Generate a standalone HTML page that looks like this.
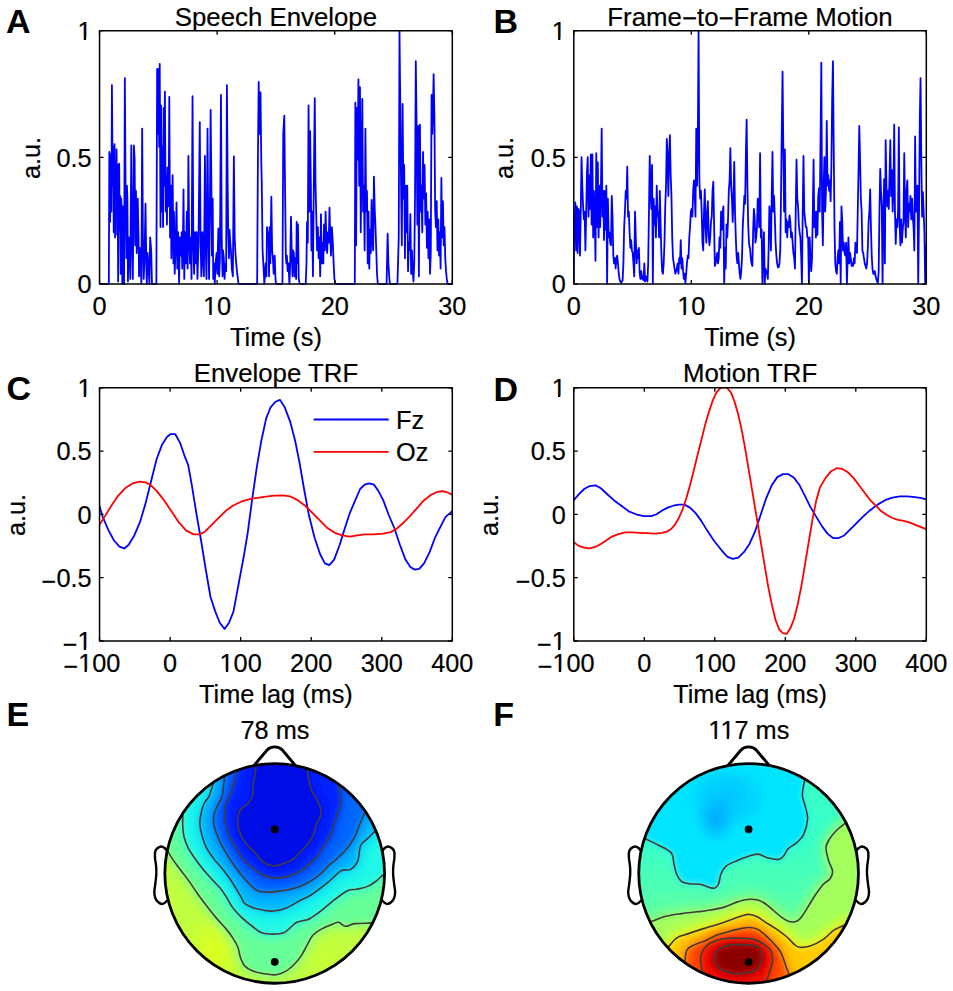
<!DOCTYPE html><html><head><meta charset="utf-8"><style>html,body{margin:0;padding:0;background:#fff}svg{display:block}</style></head><body><svg width="953" height="991" viewBox="0 0 953 991">
<style>.t{font-family:"Liberation Sans", sans-serif;font-size:25.3px;fill:#000;stroke:#000;stroke-width:0.2px} .b{font-family:"Liberation Sans", sans-serif;font-size:34px;font-weight:bold;fill:#000}</style>
<rect width="953" height="991" fill="#fff"/>
<defs><clipPath id="clipA"><rect x="99.25" y="30.05" width="353.35" height="254.65"/></clipPath><clipPath id="clipB"><rect x="573.50" y="30.05" width="353.10" height="254.65"/></clipPath><clipPath id="clipC"><rect x="99.25" y="387.25" width="353.35" height="254.35"/></clipPath><clipPath id="clipD"><rect x="573.50" y="387.25" width="353.10" height="254.35"/></clipPath></defs>
<text x="99.55" y="315.2" text-anchor="middle" class="t">0</text>
<text x="217.13" y="315.2" text-anchor="middle" class="t">10</text>
<text x="334.72" y="315.2" text-anchor="middle" class="t">20</text>
<text x="452.30" y="315.2" text-anchor="middle" class="t">30</text>
<text x="91.55" y="293.30" text-anchor="end" class="t">0</text>
<text x="91.55" y="166.57" text-anchor="end" class="t">0.5</text>
<text x="91.55" y="39.85" text-anchor="end" class="t">1</text>
<text x="275.93" y="25.6" text-anchor="middle" class="t" style="font-size:25.8px">Speech Envelope</text>
<text x="275.93" y="345.6" text-anchor="middle" class="t">Time (s)</text>
<text transform="translate(39.75 157.97) rotate(-90)" text-anchor="middle" class="t">a.u.</text>
<text x="573.80" y="315.2" text-anchor="middle" class="t">0</text>
<text x="691.30" y="315.2" text-anchor="middle" class="t">10</text>
<text x="808.80" y="315.2" text-anchor="middle" class="t">20</text>
<text x="926.30" y="315.2" text-anchor="middle" class="t">30</text>
<text x="565.80" y="293.30" text-anchor="end" class="t">0</text>
<text x="565.80" y="166.57" text-anchor="end" class="t">0.5</text>
<text x="565.80" y="39.85" text-anchor="end" class="t">1</text>
<text x="750.05" y="25.6" text-anchor="middle" class="t" style="font-size:25.8px">Frame<tspan dy="1.3">−</tspan><tspan dy="-1.3">to</tspan><tspan dy="1.3">−</tspan><tspan dy="-1.3">Frame Motion</tspan></text>
<text x="750.05" y="345.6" text-anchor="middle" class="t">Time (s)</text>
<text transform="translate(513.30 157.97) rotate(-90)" text-anchor="middle" class="t">a.u.</text>
<text x="91.95" y="672.2" text-anchor="middle" class="t"><tspan dy="3">−</tspan><tspan dy="-3">100</tspan></text>
<text x="170.10" y="672.2" text-anchor="middle" class="t">0</text>
<text x="240.65" y="672.2" text-anchor="middle" class="t">100</text>
<text x="311.20" y="672.2" text-anchor="middle" class="t">200</text>
<text x="381.75" y="672.2" text-anchor="middle" class="t">300</text>
<text x="452.30" y="672.2" text-anchor="middle" class="t">400</text>
<text x="91.55" y="650.20" text-anchor="end" class="t"><tspan dy="3">−</tspan><tspan dy="-3">1</tspan></text>
<text x="91.55" y="586.91" text-anchor="end" class="t"><tspan dy="3">−</tspan><tspan dy="-3">0.5</tspan></text>
<text x="91.55" y="523.62" text-anchor="end" class="t">0</text>
<text x="91.55" y="460.34" text-anchor="end" class="t">0.5</text>
<text x="91.55" y="397.05" text-anchor="end" class="t">1</text>
<text x="275.93" y="382.4" text-anchor="middle" class="t" style="font-size:25.8px">Envelope TRF</text>
<text x="275.93" y="702.6" text-anchor="middle" class="t">Time lag (ms)</text>
<text transform="translate(24.85 515.02) rotate(-90)" text-anchor="middle" class="t">a.u.</text>
<text x="566.20" y="672.2" text-anchor="middle" class="t"><tspan dy="3">−</tspan><tspan dy="-3">100</tspan></text>
<text x="644.30" y="672.2" text-anchor="middle" class="t">0</text>
<text x="714.80" y="672.2" text-anchor="middle" class="t">100</text>
<text x="785.30" y="672.2" text-anchor="middle" class="t">200</text>
<text x="855.80" y="672.2" text-anchor="middle" class="t">300</text>
<text x="926.30" y="672.2" text-anchor="middle" class="t">400</text>
<text x="565.80" y="650.20" text-anchor="end" class="t"><tspan dy="3">−</tspan><tspan dy="-3">1</tspan></text>
<text x="565.80" y="586.91" text-anchor="end" class="t"><tspan dy="3">−</tspan><tspan dy="-3">0.5</tspan></text>
<text x="565.80" y="523.62" text-anchor="end" class="t">0</text>
<text x="565.80" y="460.34" text-anchor="end" class="t">0.5</text>
<text x="565.80" y="397.05" text-anchor="end" class="t">1</text>
<text x="750.05" y="382.4" text-anchor="middle" class="t" style="font-size:25.8px">Motion TRF</text>
<text x="750.05" y="702.6" text-anchor="middle" class="t">Time lag (ms)</text>
<text transform="translate(498.40 515.02) rotate(-90)" text-anchor="middle" class="t">a.u.</text>
<path d="M99.00 284.10 108.82 284.10 109.34 151.93 110.11 221.90 110.63 154.52 111.40 211.54 111.92 85.07 112.70 185.62 113.21 146.75 113.73 232.27 114.50 144.16 115.02 237.45 115.54 164.89 116.05 185.62 116.57 149.34 117.09 234.86 117.60 164.89 118.12 281.51 118.64 211.54 119.16 163.59 119.67 229.68 120.19 195.99 120.71 273.73 121.22 198.58 121.74 211.54 122.26 284.10 122.77 206.35 123.55 232.27 124.06 284.10 124.84 78.07 125.61 195.99 126.39 258.18 126.91 185.62 127.42 198.58 127.94 281.51 128.72 237.45 129.49 245.23 130.27 278.92 131.30 145.45 132.07 245.23 132.85 278.92 133.88 145.45 134.66 159.71 135.18 245.23 135.95 190.81 136.73 253.00 137.76 198.58 138.53 237.45 139.05 276.33 139.83 247.82 140.60 263.37 141.38 284.10 142.15 128.61 142.93 237.45 143.70 278.92 144.48 258.18 145.51 203.76 146.29 263.37 146.80 284.10 147.58 253.00 148.61 268.55 149.39 284.10 150.16 237.45 151.20 250.41 151.97 284.10 156.36 284.10 157.14 69.00 157.91 133.79 158.43 69.00 159.21 146.75 159.72 63.82 160.50 227.09 161.02 105.29 161.79 211.54 162.31 146.75 163.08 227.09 163.60 107.88 164.37 185.62 164.89 91.55 165.67 211.54 166.18 175.26 166.96 224.50 167.48 167.48 168.25 206.35 168.77 185.62 169.28 96.99 170.06 237.45 170.83 185.62 171.35 258.18 172.13 198.58 172.64 175.26 173.42 263.37 173.94 211.54 174.71 273.73 175.49 250.41 176.52 202.47 177.29 268.55 178.07 232.27 179.10 284.10 179.88 237.45 180.65 255.59 181.69 232.27 182.20 268.55 182.98 237.45 183.50 189.51 184.27 278.92 185.05 232.27 185.82 263.37 186.86 211.54 187.63 268.55 188.41 155.82 189.18 237.45 189.96 263.37 190.73 237.45 191.51 278.92 192.54 96.22 193.32 242.64 194.09 273.73 194.87 232.27 195.90 263.37 196.67 232.27 197.45 278.92 198.48 245.23 199.78 122.13 200.55 237.45 201.33 276.33 202.36 232.27 203.13 258.18 203.91 276.33 204.94 155.82 205.72 247.82 206.49 278.92 207.53 128.61 208.30 232.27 209.08 278.92 209.85 211.54 210.63 109.95 211.40 185.62 211.92 255.59 212.70 198.58 213.21 278.92 213.99 263.37 214.76 284.10 215.54 263.37 216.57 253.00 217.35 273.73 217.86 247.82 218.38 228.38 219.16 276.33 219.93 258.18 220.96 94.92 221.74 237.45 222.51 276.33 223.03 250.41 223.81 258.18 224.58 278.92 225.36 263.37 226.13 271.14 226.91 85.07 227.68 185.62 228.20 232.27 228.97 258.18 229.49 229.68 230.27 242.64 231.04 253.00 231.82 268.55 232.85 276.33 233.88 156.34 234.66 237.45 235.43 253.00 236.21 263.37 237.24 273.73 238.53 284.10 257.14 284.10 257.91 159.71 258.69 81.96 259.47 133.79 260.50 92.33 261.27 159.71 261.79 185.62 262.57 250.41 263.34 263.37 264.37 284.10 265.67 263.37 266.44 276.33 266.96 227.09 267.73 237.45 268.51 232.27 269.03 276.33 269.54 227.09 270.32 263.37 271.35 196.77 272.13 250.41 272.90 258.18 273.68 273.73 274.71 255.59 275.49 278.92 276.00 284.10 276.00 284.10 282.46 284.10 283.24 133.79 284.27 115.65 285.04 185.62 285.82 255.59 286.34 263.37 286.85 255.59 287.63 271.14 288.40 263.37 289.44 284.10 290.21 263.37 290.99 216.72 291.76 253.00 292.54 276.33 293.05 250.41 293.83 253.00 294.60 276.33 295.38 258.18 296.16 278.92 296.67 221.90 297.45 263.37 297.96 224.50 298.74 278.92 299.77 284.10 305.72 284.10 306.49 263.37 307.01 221.90 307.78 242.64 308.56 105.29 309.33 211.54 310.11 131.20 310.88 185.62 311.40 250.41 312.18 211.54 312.95 276.33 313.98 164.89 314.76 98.03 315.53 185.62 316.31 216.72 317.09 250.41 317.86 227.09 318.64 258.18 319.41 237.45 320.19 276.33 320.96 214.13 321.74 263.37 322.51 242.64 323.29 263.37 324.06 224.50 324.84 250.41 325.61 211.54 326.39 242.64 327.16 253.00 327.94 232.27 328.71 242.64 329.49 207.65 330.26 237.45 331.04 255.59 331.81 227.09 332.85 242.64 333.62 263.37 334.40 278.92 335.43 284.10 354.81 284.10 355.33 102.69 356.10 245.23 356.88 107.88 357.65 159.71 358.43 79.37 359.20 185.62 359.98 87.14 360.75 232.27 361.53 159.71 362.30 98.81 363.08 211.54 363.86 185.62 364.63 250.41 365.41 128.61 366.18 211.54 366.96 190.81 367.73 263.37 368.51 211.54 369.28 268.55 370.06 229.68 370.83 253.00 371.61 199.88 372.38 237.45 373.16 250.41 373.93 176.55 374.71 208.95 375.48 227.09 376.26 250.41 377.03 273.73 377.81 284.10 386.59 284.10 387.63 233.57 388.40 263.37 389.18 276.33 389.95 284.10 397.45 284.10 398.74 237.45 399.51 31.43 400.29 107.88 401.06 185.62 401.84 245.23 402.61 103.99 403.39 198.58 404.17 164.89 404.94 258.18 405.72 185.62 406.49 232.27 407.27 185.62 408.04 271.14 408.82 242.64 409.59 250.41 410.37 214.13 411.14 273.73 411.92 250.41 412.69 271.14 413.47 281.51 414.24 263.37 415.02 198.58 415.79 61.23 416.57 123.43 417.34 224.50 418.12 126.02 418.89 276.33 419.93 124.72 420.70 211.54 421.48 185.62 422.25 232.27 423.03 151.93 423.80 198.58 424.58 164.89 425.35 224.50 426.13 193.40 426.90 247.82 427.68 211.54 428.45 258.18 429.23 219.31 430.01 273.73 430.78 253.00 431.56 94.92 432.33 133.79 433.11 102.69 433.62 74.19 434.40 115.65 435.17 211.54 435.95 227.09 436.72 201.17 437.50 250.41 438.27 219.31 439.05 255.59 439.82 232.27 440.60 268.55 441.37 177.85 442.15 237.45 442.93 201.17 443.70 245.23 444.48 227.09 445.25 258.18 446.03 271.14 446.80 278.92 447.58 284.10 453.00 284.10" stroke="#0000ff" stroke-width="1.8" fill="none" stroke-linejoin="round" stroke-linecap="round" clip-path="url(#clipA)"/>
<path d="M573.78 284.10 574.03 237.45 574.55 232.27 575.33 202.47 576.10 250.41 576.88 206.35 577.65 253.00 578.43 208.95 579.20 211.54 579.98 255.59 580.75 211.54 581.53 157.12 582.30 185.62 583.08 206.35 583.85 219.31 584.63 211.54 585.40 250.41 586.18 214.13 586.95 172.66 587.73 157.12 588.50 216.72 589.28 175.26 590.05 208.95 590.83 154.52 591.60 224.50 592.38 154.52 593.16 237.45 593.93 190.81 594.71 211.54 595.48 260.78 596.26 153.23 597.03 227.09 597.81 162.30 598.58 237.45 599.36 185.62 600.13 227.09 600.91 190.81 601.68 128.61 602.46 216.72 603.23 190.81 604.01 240.04 604.78 190.81 605.56 229.68 606.33 185.62 607.11 284.10 607.88 198.58 608.66 237.45 609.43 232.27 610.21 242.64 610.98 245.23 611.76 195.99 612.53 216.72 613.31 255.59 614.09 263.37 614.86 258.18 615.64 268.55 616.41 258.18 617.19 255.59 617.96 263.37 618.74 273.73 619.51 278.92 620.29 281.51 621.06 282.80 621.84 281.51 622.61 280.21 623.39 263.37 624.16 227.09 624.94 211.54 625.71 190.81 626.49 198.58 627.26 166.70 628.04 216.72 628.81 211.54 629.59 232.27 630.36 247.82 631.14 240.04 631.91 250.41 632.69 253.00 633.47 263.37 634.24 276.33 635.02 211.54 635.79 237.45 636.57 263.37 637.34 250.41 638.12 258.18 638.89 247.82 639.67 273.73 640.44 278.92 641.22 271.14 641.99 278.92 642.77 276.33 643.54 280.21 644.32 263.37 645.09 281.51 645.87 276.33 646.64 278.92 647.42 281.51 648.19 263.37 648.97 211.54 649.74 155.82 650.52 190.81 651.29 208.95 652.07 164.89 652.84 284.10 653.62 198.58 654.40 224.50 655.17 206.35 655.95 237.45 656.72 185.62 657.50 216.72 658.27 211.54 659.05 237.45 659.82 190.81 660.60 224.50 661.37 253.00 662.15 271.14 662.92 273.73 663.70 263.37 664.47 242.64 665.25 206.35 666.02 185.62 666.80 138.98 667.57 159.71 668.35 195.99 669.12 151.93 669.90 135.09 670.67 175.26 671.45 195.99 672.22 237.45 673.00 258.18 673.78 263.37 674.55 268.55 675.33 273.73 676.10 271.14 676.88 268.55 677.65 263.37 678.43 273.73 679.20 258.18 679.98 263.37 680.75 240.04 681.53 268.55 682.30 258.18 683.08 271.14 683.85 278.92 684.63 273.73 685.40 282.80 686.18 273.73 686.95 263.37 687.73 255.59 688.50 258.18 689.28 237.45 690.05 227.09 690.83 211.54 691.60 208.95 692.38 216.72 693.16 190.81 693.93 180.44 694.71 195.99 695.48 216.72 696.26 128.61 697.03 185.62 697.81 138.98 698.58 31.43 699.36 180.44 700.13 198.58 700.91 190.81 701.68 211.54 702.46 242.64 703.23 250.41 704.01 211.54 704.78 189.51 705.56 227.09 706.33 242.64 707.11 211.54 707.88 201.17 708.66 234.86 709.43 245.23 710.21 237.45 710.98 221.90 711.76 216.72 712.53 190.81 713.31 181.74 714.09 224.50 714.86 265.96 715.64 263.37 716.41 258.18 717.19 253.00 717.96 263.37 718.74 258.18 719.51 237.45 720.29 247.82 721.06 211.54 721.84 229.68 722.61 211.54 723.39 206.35 724.16 284.10 724.94 247.82 725.71 268.55 726.49 224.50 727.26 237.45 728.04 219.31 728.81 190.81 729.59 180.44 730.36 148.05 731.14 185.62 731.91 198.58 732.69 221.90 733.47 198.58 734.24 161.78 735.02 211.54 735.79 237.45 736.57 255.59 737.34 263.37 738.12 253.00 738.89 263.37 739.67 273.73 740.44 278.92 741.22 271.14 741.99 258.18 742.77 227.09 743.54 211.54 744.32 195.99 745.09 203.76 745.87 154.52 746.64 119.54 747.42 185.62 748.19 224.50 748.97 242.64 749.74 247.82 750.00 247.82 750.78 258.18 751.55 263.37 752.33 265.96 753.10 232.27 753.88 208.95 754.65 216.72 755.43 242.64 756.20 237.45 756.98 227.09 757.75 198.58 758.53 211.54 759.30 227.09 760.08 153.23 760.85 237.45 761.63 229.68 762.40 284.10 763.18 255.59 763.95 232.27 764.73 284.10 765.50 268.55 766.28 271.14 767.05 273.73 767.83 278.92 768.60 250.41 769.38 206.35 770.16 216.72 770.93 250.41 771.71 195.99 772.48 151.93 773.26 211.54 774.03 195.99 774.81 216.72 775.58 242.64 776.36 255.59 777.13 263.37 777.91 267.26 778.68 267.26 779.46 263.37 780.23 250.41 781.01 195.99 781.78 128.61 782.56 71.60 783.33 149.34 784.11 211.54 784.88 149.34 785.66 232.27 786.43 219.31 787.21 237.45 787.98 221.90 788.76 227.09 789.53 215.42 790.31 221.90 791.09 237.45 791.86 232.27 792.64 242.64 793.41 253.00 794.19 258.18 794.96 268.55 795.74 211.54 796.51 159.71 797.29 198.58 798.06 206.35 798.84 224.50 799.61 232.27 800.39 237.45 801.16 255.59 801.94 284.10 802.71 211.54 803.49 155.82 804.26 211.54 805.04 219.31 805.81 227.09 806.59 227.09 807.36 237.45 808.14 237.45 808.91 284.10 809.69 237.45 810.47 258.18 811.24 271.14 812.02 258.18 812.79 211.54 813.57 159.71 814.34 227.09 815.12 211.54 815.89 237.45 816.67 211.54 817.44 234.86 818.22 195.99 818.99 188.21 819.77 211.54 820.54 138.98 821.32 62.53 822.09 211.54 822.87 245.23 823.64 185.62 824.42 157.12 825.19 211.54 825.97 190.81 826.74 120.83 827.52 185.62 828.29 175.26 829.07 190.81 829.84 180.44 830.62 201.17 831.40 164.89 832.17 98.81 832.95 61.23 833.72 146.75 834.50 227.09 835.27 263.37 836.05 271.14 836.82 273.73 837.60 258.18 838.37 250.41 839.15 263.37 839.92 221.90 840.70 284.10 841.47 206.35 842.25 221.90 843.02 250.41 843.80 242.64 844.57 253.00 845.35 255.59 846.12 242.64 846.90 284.10 847.67 258.18 848.45 237.45 849.22 263.37 850.00 253.00 850.78 258.18 851.55 265.96 852.33 263.37 853.10 265.96 853.88 258.18 854.65 263.37 855.43 242.64 856.20 245.23 856.98 253.00 857.75 211.54 858.53 170.07 859.30 126.02 860.08 159.71 860.85 198.58 861.63 211.54 862.40 250.41 863.18 253.00 863.95 258.18 864.73 263.37 865.50 265.96 866.28 268.55 867.05 263.37 867.83 247.82 868.60 221.90 869.38 211.54 870.16 189.51 870.93 227.09 871.71 255.59 872.48 268.55 873.26 273.73 874.03 273.73 874.81 271.14 875.58 276.33 876.36 278.92 877.13 281.51 877.91 282.80 878.68 271.14 879.46 211.54 880.23 168.78 881.01 190.81 881.78 206.35 882.56 284.10 883.33 216.72 884.11 179.14 884.88 263.37 885.66 140.27 886.43 185.62 887.21 206.35 887.98 190.81 888.76 208.95 889.53 175.26 890.31 140.27 891.09 195.99 891.86 170.07 892.64 211.54 893.41 190.81 894.19 124.72 894.96 211.54 895.74 243.93 896.51 219.31 897.29 227.09 898.06 211.54 898.84 127.31 899.61 224.50 900.39 245.23 901.16 219.31 901.94 242.64 902.71 229.68 903.49 221.90 904.26 153.23 905.04 211.54 905.81 237.45 906.59 190.81 907.36 180.44 908.14 227.09 908.91 203.76 909.69 211.54 910.47 195.99 911.24 219.31 912.02 198.58 912.79 216.72 913.57 227.09 914.34 250.41 915.12 136.38 915.89 211.54 916.67 211.54 917.44 185.62 918.22 284.10 918.99 216.72 919.77 120.83 920.54 78.07 921.32 159.71 922.09 216.72 922.87 192.10 923.64 211.54 924.42 232.27 925.19 284.10 925.97 263.37 926.74 242.64" stroke="#0000ff" stroke-width="1.8" fill="none" stroke-linejoin="round" stroke-linecap="round" clip-path="url(#clipB)"/>
<path d="M99.00 504.61 102.71 516.87 108.29 529.87 113.86 540.27 119.43 546.59 124.26 548.45 128.72 544.73 134.29 535.45 139.86 522.44 145.43 503.87 151.01 481.58 156.58 459.29 162.15 444.44 166.98 437.01 170.69 434.03 175.15 434.03 179.98 442.58 184.44 455.58 188.15 464.87 191.87 485.30 196.33 513.16 201.15 541.02 205.98 570.74 210.44 596.74 215.27 611.60 219.73 622.74 224.56 629.06 229.01 622.74 233.47 611.60 238.30 585.59 243.87 555.88 247.59 533.59 252.05 500.16 256.88 466.72 261.33 440.72 266.16 418.43 270.62 407.29 275.45 401.72 279.91 399.86 284.74 407.29 290.31 422.15 295.14 440.72 299.59 463.01 304.05 489.01 308.88 515.01 314.45 537.30 320.03 554.02 324.85 563.31 329.31 565.16 334.14 559.59 339.71 544.73 344.91 528.02 349.74 513.16 355.32 500.16 360.14 489.01 364.60 484.55 369.06 483.44 373.89 484.55 378.35 490.87 383.18 500.16 388.75 515.01 394.32 528.02 399.89 544.73 405.46 559.59 410.29 567.02 414.75 569.62 419.21 568.88 424.04 563.31 429.61 552.16 435.18 537.30 440.75 526.16 445.58 516.87 450.04 513.16 451.90 511.30" stroke="#0000ff" stroke-width="1.8" fill="none" stroke-linejoin="round" stroke-linecap="round" clip-path="url(#clipC)"/>
<path d="M99.00 525.42 104.57 516.87 110.14 507.59 117.57 496.44 125.00 488.27 132.43 483.44 139.86 481.58 145.43 482.33 151.01 485.30 156.58 490.87 164.01 500.16 171.44 511.30 178.87 522.44 186.30 530.62 193.73 534.33 199.30 534.33 204.87 531.73 210.44 526.16 217.87 518.73 225.30 511.30 232.73 505.73 242.02 501.27 251.30 498.67 262.45 497.18 273.59 495.70 282.88 495.33 290.31 496.44 297.74 500.16 305.17 505.73 312.60 513.16 320.03 520.59 327.45 528.02 334.88 532.85 342.31 535.45 349.74 536.56 357.17 535.45 364.60 534.33 373.89 534.33 383.18 533.59 390.60 532.10 396.18 529.13 401.75 524.30 409.18 516.87 416.61 508.70 424.04 500.16 431.47 494.58 437.04 491.98 442.61 491.24 448.18 492.73 451.90 494.58" stroke="#ff0000" stroke-width="1.8" fill="none" stroke-linejoin="round" stroke-linecap="round" clip-path="url(#clipC)"/>
<path d="M573.74 500.16 578.57 494.58 584.14 489.01 589.72 486.04 595.29 485.30 600.86 488.27 606.43 493.47 613.86 500.16 621.29 505.73 628.72 511.30 636.15 514.27 643.58 516.13 651.01 516.13 656.58 514.27 662.15 510.56 667.73 507.59 673.30 505.73 678.87 504.61 684.44 504.61 690.01 507.59 695.59 513.16 701.16 520.59 706.73 529.87 714.16 541.02 721.59 550.30 727.16 556.62 732.73 558.85 738.30 557.73 743.88 552.16 749.45 543.99 755.02 531.73 760.59 515.01 766.16 498.30 771.74 485.30 777.31 477.12 782.88 474.15 788.45 474.15 794.03 477.87 799.60 485.30 805.17 496.44 810.74 507.59 816.31 516.87 821.89 526.16 827.46 533.59 833.03 538.05 838.60 538.05 844.17 535.45 849.75 529.87 855.32 524.30 862.75 516.87 870.18 510.19 877.61 504.61 885.04 500.16 892.47 497.56 899.89 496.44 907.32 496.44 914.75 497.18 920.33 497.93 926.27 499.41" stroke="#0000ff" stroke-width="1.8" fill="none" stroke-linejoin="round" stroke-linecap="round" clip-path="url(#clipD)"/>
<path d="M573.74 542.13 578.57 545.85 584.14 547.70 589.72 548.45 595.29 546.96 600.86 543.99 606.43 540.27 612.00 536.56 617.58 534.33 625.01 532.47 632.44 532.47 639.86 532.85 647.29 533.22 654.72 533.59 662.15 532.85 667.73 531.36 671.44 528.76 675.15 524.30 678.87 517.99 682.58 509.44 686.30 498.30 690.01 485.30 693.73 470.44 697.44 455.58 701.16 440.72 704.87 425.86 708.59 412.86 712.30 401.72 716.02 393.17 719.73 388.71 723.45 387.23 727.16 387.97 730.88 392.43 734.59 401.72 738.30 414.72 742.02 431.43 745.73 451.86 749.45 474.15 753.16 496.44 756.88 518.73 760.59 541.02 764.31 563.31 768.02 585.59 771.74 604.17 775.45 619.77 779.17 629.43 782.88 633.14 786.60 633.89 790.31 628.31 794.03 619.03 797.74 604.17 801.45 585.59 805.17 563.31 808.88 541.02 812.60 518.73 816.31 500.16 820.03 487.15 825.60 477.87 831.17 471.18 836.74 468.21 842.32 468.95 847.89 472.30 853.46 477.87 859.03 485.30 864.60 492.73 870.18 500.16 875.75 505.73 881.32 511.30 886.89 515.01 892.47 517.99 898.04 519.84 903.61 520.96 909.18 522.44 914.75 524.67 920.33 526.90 926.27 529.13" stroke="#ff0000" stroke-width="1.8" fill="none" stroke-linejoin="round" stroke-linecap="round" clip-path="url(#clipD)"/>
<path d="M99.55 284.10v-4.0M99.55 30.65v4.0M217.13 284.10v-4.0M217.13 30.65v4.0M334.72 284.10v-4.0M334.72 30.65v4.0M452.30 284.10v-4.0M452.30 30.65v4.0M99.55 284.10h4.0M452.30 284.10h-4.0M99.55 157.38h4.0M452.30 157.38h-4.0M99.55 30.65h4.0M452.30 30.65h-4.0" stroke="#000" stroke-width="1.3" fill="none"/>
<rect x="99.55" y="30.65" width="352.75" height="253.45" fill="none" stroke="#000" stroke-width="1.5" stroke-linejoin="round"/>
<path d="M573.80 284.10v-4.0M573.80 30.65v4.0M691.30 284.10v-4.0M691.30 30.65v4.0M808.80 284.10v-4.0M808.80 30.65v4.0M926.30 284.10v-4.0M926.30 30.65v4.0M573.80 284.10h4.0M926.30 284.10h-4.0M573.80 157.38h4.0M926.30 157.38h-4.0M573.80 30.65h4.0M926.30 30.65h-4.0" stroke="#000" stroke-width="1.3" fill="none"/>
<rect x="573.8" y="30.65" width="352.50" height="253.45" fill="none" stroke="#000" stroke-width="1.5" stroke-linejoin="round"/>
<path d="M99.55 641.00v-4.0M99.55 387.85v4.0M170.10 641.00v-4.0M170.10 387.85v4.0M240.65 641.00v-4.0M240.65 387.85v4.0M311.20 641.00v-4.0M311.20 387.85v4.0M381.75 641.00v-4.0M381.75 387.85v4.0M452.30 641.00v-4.0M452.30 387.85v4.0M99.55 641.00h4.0M452.30 641.00h-4.0M99.55 577.71h4.0M452.30 577.71h-4.0M99.55 514.42h4.0M452.30 514.42h-4.0M99.55 451.14h4.0M452.30 451.14h-4.0M99.55 387.85h4.0M452.30 387.85h-4.0" stroke="#000" stroke-width="1.3" fill="none"/>
<rect x="99.55" y="387.85" width="352.75" height="253.15" fill="none" stroke="#000" stroke-width="1.5" stroke-linejoin="round"/>
<path d="M573.80 641.00v-4.0M573.80 387.85v4.0M644.30 641.00v-4.0M644.30 387.85v4.0M714.80 641.00v-4.0M714.80 387.85v4.0M785.30 641.00v-4.0M785.30 387.85v4.0M855.80 641.00v-4.0M855.80 387.85v4.0M926.30 641.00v-4.0M926.30 387.85v4.0M573.80 641.00h4.0M926.30 641.00h-4.0M573.80 577.71h4.0M926.30 577.71h-4.0M573.80 514.42h4.0M926.30 514.42h-4.0M573.80 451.14h4.0M926.30 451.14h-4.0M573.80 387.85h4.0M926.30 387.85h-4.0" stroke="#000" stroke-width="1.3" fill="none"/>
<rect x="573.8" y="387.85" width="352.50" height="253.15" fill="none" stroke="#000" stroke-width="1.5" stroke-linejoin="round"/>
<path d="M313.7 419.5H388.7" stroke="#0000ff" stroke-width="1.8"/>
<path d="M313.7 451.9H388.7" stroke="#ff0000" stroke-width="1.8"/>
<text x="396" y="429.0" class="t">Fz</text>
<text x="396" y="460.8" class="t">Oz</text>
<text x="6.1" y="33.4" class="b">A</text>
<text x="493.5" y="33.4" class="b">B</text>
<text x="6.5" y="400.4" class="b">C</text>
<text x="493.5" y="400.6" class="b">D</text>
<text x="6.5" y="726.1" class="b">E</text>
<text x="493.3" y="726.3" class="b">F</text>
<text x="275" y="738.8" text-anchor="middle" class="t">78 ms</text>
<text x="748.8" y="738.8" text-anchor="middle" class="t">117 ms</text>
<defs>
<clipPath id="cE"><circle cx="274.71" cy="873.40" r="109.85"/></clipPath>
<clipPath id="cF"><circle cx="748.71" cy="873.40" r="109.85"/></clipPath>
<filter id="bl" x="-20%" y="-20%" width="140%" height="140%"><feGaussianBlur stdDeviation="3"/></filter>
<filter id="bl2" x="-50%" y="-50%" width="200%" height="200%"><feGaussianBlur stdDeviation="8"/></filter>
<radialGradient id="rgCore"><stop offset="0" stop-color="#0000c4" stop-opacity="0.85"/><stop offset="0.45" stop-color="#0000c8" stop-opacity="0.45"/><stop offset="1" stop-color="#0000d8" stop-opacity="0"/></radialGradient>
<radialGradient id="rgYel"><stop offset="0" stop-color="#e0ff1e" stop-opacity="1"/><stop offset="1" stop-color="#e0ff1e" stop-opacity="0"/></radialGradient>
<radialGradient id="rgYel2"><stop offset="0" stop-color="#c8ff36" stop-opacity="1"/><stop offset="1" stop-color="#c8ff36" stop-opacity="0"/></radialGradient>
<radialGradient id="rgLB"><stop offset="0" stop-color="#00a8ff" stop-opacity="1"/><stop offset="1" stop-color="#00a8ff" stop-opacity="0"/></radialGradient>
<radialGradient id="rgLB2"><stop offset="0" stop-color="#00c4ff" stop-opacity="1"/><stop offset="0.6" stop-color="#00c8ff" stop-opacity="0.6"/><stop offset="1" stop-color="#00d0ff" stop-opacity="0"/></radialGradient>
<filter id="bl3" x="-50%" y="-50%" width="200%" height="200%"><feGaussianBlur stdDeviation="5"/></filter>
</defs>
<g clip-path="url(#cE)"><g filter="url(#bl)">
<rect x="134.7" y="733.4" width="280" height="280" fill="#c0ff40"/>
<ellipse cx="215.6" cy="949.9" rx="34" ry="40" fill="url(#rgYel)"/>
<ellipse cx="320.5" cy="957.7" rx="30" ry="26" fill="url(#rgYel2)"/>
<path d="M163.87 845.09C164.40 845.94 165.43 847.58 167.05 850.18C168.67 852.78 171.20 857.17 173.61 860.67C176.01 864.17 178.86 867.67 181.48 871.16C184.10 874.66 186.55 877.72 189.35 881.66C192.15 885.59 195.30 890.62 198.27 894.77C201.24 898.93 204.13 902.64 207.19 906.58C210.25 910.51 213.48 914.67 216.63 918.38C219.78 922.10 223.36 925.60 226.08 928.88C228.79 932.16 230.93 935.00 232.90 938.06C234.86 941.12 236.61 943.96 237.88 947.24C239.15 950.52 239.41 954.67 240.50 957.73C241.60 960.79 242.47 963.42 244.44 965.60C246.41 967.79 249.25 969.54 252.31 970.85C255.37 972.16 258.87 972.82 262.80 973.47C266.74 974.13 271.98 975.22 275.92 974.78C279.85 974.35 283.35 972.60 286.41 970.85C289.47 969.10 291.88 966.70 294.28 964.29C296.69 961.89 298.65 959.70 300.84 956.42C303.03 953.14 305.43 948.11 307.40 944.62C309.37 941.12 310.24 938.06 312.64 935.44C315.05 932.81 318.33 930.84 321.83 928.88C325.32 926.91 330.79 924.72 333.63 923.63C336.47 922.54 336.91 921.88 338.88 922.32C340.84 922.76 342.81 926.04 345.44 926.25C348.06 926.47 350.68 924.16 354.62 923.63C358.55 923.11 365.64 923.23 369.05 923.11C372.45 922.98 374.04 922.92 375.04 922.89L418.20 944.18L426.65 923.52L432.15 901.90L434.58 879.72L433.91 857.42L430.13 835.42L423.34 814.17L413.65 794.07L401.27 775.51L386.42 758.85L369.39 744.43L350.53 732.51L330.19 723.33L308.78 717.07L286.70 713.85L264.38 713.73L242.27 716.72L220.79 722.76L200.36 731.73L181.37 743.45L164.20 757.70L149.18 774.19L136.59 792.62L126.70 812.62L119.68 833.80Z" fill="#90ff70" stroke="#90ff70" stroke-width="8" stroke-linejoin="round" filter="url(#bl3)"/>
<path d="M163.87 845.09C164.40 845.94 165.43 847.58 167.05 850.18C168.67 852.78 171.20 857.17 173.61 860.67C176.01 864.17 178.86 867.67 181.48 871.16C184.10 874.66 186.55 877.72 189.35 881.66C192.15 885.59 195.30 890.62 198.27 894.77C201.24 898.93 204.13 902.64 207.19 906.58C210.25 910.51 213.48 914.67 216.63 918.38C219.78 922.10 223.36 925.60 226.08 928.88C228.79 932.16 230.93 935.00 232.90 938.06C234.86 941.12 236.61 943.96 237.88 947.24C239.15 950.52 239.41 954.67 240.50 957.73C241.60 960.79 242.47 963.42 244.44 965.60C246.41 967.79 249.25 969.54 252.31 970.85C255.37 972.16 258.87 972.82 262.80 973.47C266.74 974.13 271.98 975.22 275.92 974.78C279.85 974.35 283.35 972.60 286.41 970.85C289.47 969.10 291.88 966.70 294.28 964.29C296.69 961.89 298.65 959.70 300.84 956.42C303.03 953.14 305.43 948.11 307.40 944.62C309.37 941.12 310.24 938.06 312.64 935.44C315.05 932.81 318.33 930.84 321.83 928.88C325.32 926.91 330.79 924.72 333.63 923.63C336.47 922.54 336.91 921.88 338.88 922.32C340.84 922.76 342.81 926.04 345.44 926.25C348.06 926.47 350.68 924.16 354.62 923.63C358.55 923.11 365.64 923.23 369.05 923.11C372.45 922.98 374.04 922.92 375.04 922.89L418.20 944.18L426.65 923.52L432.15 901.90L434.58 879.72L433.91 857.42L430.13 835.42L423.34 814.17L413.65 794.07L401.27 775.51L386.42 758.85L369.39 744.43L350.53 732.51L330.19 723.33L308.78 717.07L286.70 713.85L264.38 713.73L242.27 716.72L220.79 722.76L200.36 731.73L181.37 743.45L164.20 757.70L149.18 774.19L136.59 792.62L126.70 812.62L119.68 833.80Z" fill="#68ff98"/>
<path d="M182.79 810.08C182.79 811.08 182.79 813.33 182.79 816.08C182.79 818.82 182.57 823.07 182.79 826.57C183.01 830.07 183.23 833.56 184.10 837.06C184.98 840.56 186.29 844.06 188.04 847.56C189.79 851.05 192.19 854.55 194.60 858.05C197.00 861.55 199.62 865.04 202.47 868.54C205.31 872.04 208.67 875.76 211.65 879.03C214.62 882.31 217.81 885.16 220.30 888.22C222.80 891.28 224.50 894.12 226.60 897.40C228.70 900.68 230.45 904.61 232.90 907.89C235.34 911.17 238.06 914.01 241.29 917.07C244.53 920.13 248.94 923.63 252.31 926.25C255.68 928.88 257.99 931.50 261.49 932.81C264.99 934.12 269.58 934.12 273.29 934.12C277.01 934.12 280.95 933.91 283.79 932.81C286.63 931.72 288.16 929.31 290.35 927.57C292.53 925.82 294.06 923.63 296.90 922.32C299.75 921.01 304.99 920.48 307.40 919.70C309.80 918.91 309.02 919.13 311.33 917.60C313.65 916.07 317.32 913.57 321.30 910.51C325.28 907.45 330.75 902.56 335.20 899.23C339.66 895.91 344.52 892.24 348.06 890.58C351.60 888.92 353.17 889.97 356.45 889.27C359.73 888.57 364.41 887.78 367.73 886.38C371.06 884.98 373.90 882.75 376.39 880.87C378.88 878.99 380.90 876.74 382.69 875.10C384.47 873.46 386.37 871.72 387.11 871.05L434.67 870.05L433.44 853.32L430.47 836.81L425.78 820.70L419.43 805.18L411.49 790.40L402.05 776.53L391.21 763.73L379.09 752.14L365.82 741.88L351.55 733.06L336.43 725.79L320.64 720.14L304.34 716.17L287.71 713.93L270.95 713.45L254.22 714.72L237.72 717.74L221.62 722.46L206.11 728.85L191.35 736.83L177.51 746.30L164.74 757.18L153.18 769.33L142.95 782.63Z" fill="#40ffc0" stroke="#40ffc0" stroke-width="8" stroke-linejoin="round" filter="url(#bl3)"/>
<path d="M182.79 810.08C182.79 811.08 182.79 813.33 182.79 816.08C182.79 818.82 182.57 823.07 182.79 826.57C183.01 830.07 183.23 833.56 184.10 837.06C184.98 840.56 186.29 844.06 188.04 847.56C189.79 851.05 192.19 854.55 194.60 858.05C197.00 861.55 199.62 865.04 202.47 868.54C205.31 872.04 208.67 875.76 211.65 879.03C214.62 882.31 217.81 885.16 220.30 888.22C222.80 891.28 224.50 894.12 226.60 897.40C228.70 900.68 230.45 904.61 232.90 907.89C235.34 911.17 238.06 914.01 241.29 917.07C244.53 920.13 248.94 923.63 252.31 926.25C255.68 928.88 257.99 931.50 261.49 932.81C264.99 934.12 269.58 934.12 273.29 934.12C277.01 934.12 280.95 933.91 283.79 932.81C286.63 931.72 288.16 929.31 290.35 927.57C292.53 925.82 294.06 923.63 296.90 922.32C299.75 921.01 304.99 920.48 307.40 919.70C309.80 918.91 309.02 919.13 311.33 917.60C313.65 916.07 317.32 913.57 321.30 910.51C325.28 907.45 330.75 902.56 335.20 899.23C339.66 895.91 344.52 892.24 348.06 890.58C351.60 888.92 353.17 889.97 356.45 889.27C359.73 888.57 364.41 887.78 367.73 886.38C371.06 884.98 373.90 882.75 376.39 880.87C378.88 878.99 380.90 876.74 382.69 875.10C384.47 873.46 386.37 871.72 387.11 871.05L434.67 870.05L433.44 853.32L430.47 836.81L425.78 820.70L419.43 805.18L411.49 790.40L402.05 776.53L391.21 763.73L379.09 752.14L365.82 741.88L351.55 733.06L336.43 725.79L320.64 720.14L304.34 716.17L287.71 713.93L270.95 713.45L254.22 714.72L237.72 717.74L221.62 722.46L206.11 728.85L191.35 736.83L177.51 746.30L164.74 757.18L153.18 769.33L142.95 782.63Z" fill="#20f8e8"/>
<path d="M213.54 782.84C213.23 783.79 212.40 786.27 211.65 788.53C210.89 790.79 210.34 793.78 209.02 796.40C207.71 799.02 205.09 801.43 203.78 804.27C202.47 807.11 201.81 810.17 201.15 813.45C200.50 816.73 199.62 820.01 199.84 823.95C200.06 827.88 201.37 833.13 202.47 837.06C203.56 841.00 204.43 843.84 206.40 847.56C208.37 851.27 211.65 855.86 214.27 859.36C216.89 862.86 219.52 865.26 222.14 868.54C224.76 871.82 227.61 875.54 230.01 879.03C232.42 882.53 234.69 886.47 236.57 889.53C238.45 892.59 239.89 895.04 241.29 897.40C242.69 899.76 242.91 901.94 244.96 903.69C247.02 905.44 250.65 906.84 253.62 907.89C256.59 908.94 259.52 909.46 262.80 909.99C266.08 910.51 269.36 911.39 273.29 911.04C277.23 910.69 281.95 909.64 286.41 907.89C290.87 906.14 295.90 902.73 300.05 900.55C304.21 898.36 306.65 897.83 311.33 894.77C316.01 891.71 323.18 886.16 328.12 882.18C333.06 878.20 337.22 873.04 340.98 870.90C344.74 868.76 347.88 870.99 350.68 869.33C353.48 867.67 356.10 864.91 357.76 860.93C359.43 856.96 358.99 849.22 360.65 845.46C362.31 841.70 365.46 840.65 367.73 838.37C370.01 836.10 372.49 833.62 374.29 831.82C376.09 830.02 377.83 828.28 378.53 827.57L421.08 808.79L415.99 798.31L410.15 788.22L403.58 778.58L396.34 769.45L388.44 760.87L379.95 752.89L370.89 745.54L361.33 738.88L351.30 732.93L340.87 727.72L330.09 723.29L319.01 719.66L307.70 716.84L296.21 714.85L284.61 713.71L272.95 713.41L261.31 713.96L249.73 715.36L238.29 717.60L227.05 720.66L216.05 724.54L205.37 729.21L195.05 734.64L185.16 740.81Z" fill="#08dcf4" stroke="#08dcf4" stroke-width="8" stroke-linejoin="round" filter="url(#bl3)"/>
<path d="M213.54 782.84C213.23 783.79 212.40 786.27 211.65 788.53C210.89 790.79 210.34 793.78 209.02 796.40C207.71 799.02 205.09 801.43 203.78 804.27C202.47 807.11 201.81 810.17 201.15 813.45C200.50 816.73 199.62 820.01 199.84 823.95C200.06 827.88 201.37 833.13 202.47 837.06C203.56 841.00 204.43 843.84 206.40 847.56C208.37 851.27 211.65 855.86 214.27 859.36C216.89 862.86 219.52 865.26 222.14 868.54C224.76 871.82 227.61 875.54 230.01 879.03C232.42 882.53 234.69 886.47 236.57 889.53C238.45 892.59 239.89 895.04 241.29 897.40C242.69 899.76 242.91 901.94 244.96 903.69C247.02 905.44 250.65 906.84 253.62 907.89C256.59 908.94 259.52 909.46 262.80 909.99C266.08 910.51 269.36 911.39 273.29 911.04C277.23 910.69 281.95 909.64 286.41 907.89C290.87 906.14 295.90 902.73 300.05 900.55C304.21 898.36 306.65 897.83 311.33 894.77C316.01 891.71 323.18 886.16 328.12 882.18C333.06 878.20 337.22 873.04 340.98 870.90C344.74 868.76 347.88 870.99 350.68 869.33C353.48 867.67 356.10 864.91 357.76 860.93C359.43 856.96 358.99 849.22 360.65 845.46C362.31 841.70 365.46 840.65 367.73 838.37C370.01 836.10 372.49 833.62 374.29 831.82C376.09 830.02 377.83 828.28 378.53 827.57L421.08 808.79L415.99 798.31L410.15 788.22L403.58 778.58L396.34 769.45L388.44 760.87L379.95 752.89L370.89 745.54L361.33 738.88L351.30 732.93L340.87 727.72L330.09 723.29L319.01 719.66L307.70 716.84L296.21 714.85L284.61 713.71L272.95 713.41L261.31 713.96L249.73 715.36L238.29 717.60L227.05 720.66L216.05 724.54L205.37 729.21L195.05 734.64L185.16 740.81Z" fill="#00b8ff"/>
<path d="M225.61 770.79C225.47 771.78 225.12 774.21 224.76 776.73C224.40 779.25 223.89 782.63 223.45 785.91C223.02 789.19 223.02 793.34 222.14 796.40C221.27 799.46 219.52 801.43 218.21 804.27C216.89 807.11 215.01 810.17 214.27 813.45C213.53 816.73 213.31 820.45 213.75 823.95C214.18 827.44 215.71 831.16 216.89 834.44C218.07 837.72 219.30 840.56 220.83 843.62C222.36 846.68 224.11 849.52 226.08 852.80C228.04 856.08 230.23 859.80 232.63 863.29C235.04 866.79 237.88 870.51 240.50 873.79C243.13 877.07 245.53 880.13 248.37 882.97C251.22 885.81 254.28 889.31 257.56 890.84C260.83 892.37 264.11 892.15 268.05 892.15C271.98 892.15 276.79 891.50 281.16 890.84C285.54 890.18 289.91 889.53 294.28 888.22C298.65 886.90 303.24 885.16 307.40 882.97C311.55 880.78 315.70 877.94 319.20 875.10C322.70 872.26 325.32 868.76 328.38 865.92C331.44 863.08 334.51 860.89 337.57 858.05C340.63 855.21 343.91 852.36 346.75 848.87C349.59 845.37 352.43 841.22 354.62 837.06C356.80 832.91 358.33 827.66 359.86 823.95C361.39 820.23 362.75 817.21 363.80 814.76C364.85 812.31 365.77 810.17 366.16 809.25L405.69 781.52L400.09 774.01L394.06 766.84L387.62 760.04L380.79 753.63L373.60 747.62L366.07 742.05L358.23 736.93L350.10 732.28L341.71 728.11L333.09 724.43L324.27 721.27L315.29 718.63L306.16 716.52L296.92 714.95L287.61 713.92L278.26 713.44L268.89 713.51L259.54 714.12L250.25 715.28L241.04 716.98L231.94 719.22L222.99 721.99L214.22 725.28L205.65 729.07Z" fill="#0090ff" stroke="#0090ff" stroke-width="8" stroke-linejoin="round" filter="url(#bl3)"/>
<path d="M225.61 770.79C225.47 771.78 225.12 774.21 224.76 776.73C224.40 779.25 223.89 782.63 223.45 785.91C223.02 789.19 223.02 793.34 222.14 796.40C221.27 799.46 219.52 801.43 218.21 804.27C216.89 807.11 215.01 810.17 214.27 813.45C213.53 816.73 213.31 820.45 213.75 823.95C214.18 827.44 215.71 831.16 216.89 834.44C218.07 837.72 219.30 840.56 220.83 843.62C222.36 846.68 224.11 849.52 226.08 852.80C228.04 856.08 230.23 859.80 232.63 863.29C235.04 866.79 237.88 870.51 240.50 873.79C243.13 877.07 245.53 880.13 248.37 882.97C251.22 885.81 254.28 889.31 257.56 890.84C260.83 892.37 264.11 892.15 268.05 892.15C271.98 892.15 276.79 891.50 281.16 890.84C285.54 890.18 289.91 889.53 294.28 888.22C298.65 886.90 303.24 885.16 307.40 882.97C311.55 880.78 315.70 877.94 319.20 875.10C322.70 872.26 325.32 868.76 328.38 865.92C331.44 863.08 334.51 860.89 337.57 858.05C340.63 855.21 343.91 852.36 346.75 848.87C349.59 845.37 352.43 841.22 354.62 837.06C356.80 832.91 358.33 827.66 359.86 823.95C361.39 820.23 362.75 817.21 363.80 814.76C364.85 812.31 365.77 810.17 366.16 809.25L405.69 781.52L400.09 774.01L394.06 766.84L387.62 760.04L380.79 753.63L373.60 747.62L366.07 742.05L358.23 736.93L350.10 732.28L341.71 728.11L333.09 724.43L324.27 721.27L315.29 718.63L306.16 716.52L296.92 714.95L287.61 713.92L278.26 713.44L268.89 713.51L259.54 714.12L250.25 715.28L241.04 716.98L231.94 719.22L222.99 721.99L214.22 725.28L205.65 729.07Z" fill="#0068ff"/>
<path d="M238.22 767.02C237.94 767.98 237.28 770.30 236.57 772.79C235.86 775.28 234.82 778.69 233.95 781.97C233.07 785.25 232.63 788.97 231.32 792.47C230.01 795.96 227.17 799.46 226.08 802.96C224.98 806.46 224.85 809.95 224.76 813.45C224.68 816.95 224.90 820.45 225.55 823.95C226.21 827.44 227.30 830.94 228.70 834.44C230.10 837.94 231.98 841.43 233.95 844.93C235.91 848.43 238.32 852.36 240.50 855.42C242.69 858.49 244.66 860.89 247.06 863.29C249.47 865.70 252.31 867.89 254.93 869.85C257.56 871.82 259.96 873.79 262.80 875.10C265.64 876.41 268.92 877.29 271.98 877.72C275.04 878.16 277.89 878.16 281.16 877.72C284.44 877.29 288.16 876.41 291.66 875.10C295.16 873.79 299.09 871.82 302.15 869.85C305.21 867.89 307.40 865.70 310.02 863.29C312.64 860.89 315.49 858.49 317.89 855.42C320.30 852.36 322.26 848.43 324.45 844.93C326.64 841.43 329.48 837.50 331.01 834.44C332.54 831.38 332.54 830.07 333.63 826.57C334.72 823.07 336.47 817.17 337.57 813.45C338.66 809.74 339.75 807.33 340.19 804.27C340.63 801.21 340.41 798.02 340.19 795.09C339.97 792.16 339.25 789.08 338.88 786.69C338.50 784.31 338.11 781.75 337.95 780.77L364.92 741.26L359.74 737.87L354.43 734.68L349.00 731.69L343.45 728.92L337.81 726.37L332.07 724.04L326.24 721.93L320.34 720.05L314.37 718.39L308.34 716.98L302.25 715.79L296.13 714.84L289.98 714.13L283.80 713.66L277.61 713.43L271.41 713.44L265.22 713.68L259.04 714.17L252.89 714.90L246.77 715.86L240.69 717.06L234.66 718.49L228.69 720.16L222.79 722.06Z" fill="#0045ff" stroke="#0045ff" stroke-width="8" stroke-linejoin="round" filter="url(#bl3)"/>
<path d="M238.22 767.02C237.94 767.98 237.28 770.30 236.57 772.79C235.86 775.28 234.82 778.69 233.95 781.97C233.07 785.25 232.63 788.97 231.32 792.47C230.01 795.96 227.17 799.46 226.08 802.96C224.98 806.46 224.85 809.95 224.76 813.45C224.68 816.95 224.90 820.45 225.55 823.95C226.21 827.44 227.30 830.94 228.70 834.44C230.10 837.94 231.98 841.43 233.95 844.93C235.91 848.43 238.32 852.36 240.50 855.42C242.69 858.49 244.66 860.89 247.06 863.29C249.47 865.70 252.31 867.89 254.93 869.85C257.56 871.82 259.96 873.79 262.80 875.10C265.64 876.41 268.92 877.29 271.98 877.72C275.04 878.16 277.89 878.16 281.16 877.72C284.44 877.29 288.16 876.41 291.66 875.10C295.16 873.79 299.09 871.82 302.15 869.85C305.21 867.89 307.40 865.70 310.02 863.29C312.64 860.89 315.49 858.49 317.89 855.42C320.30 852.36 322.26 848.43 324.45 844.93C326.64 841.43 329.48 837.50 331.01 834.44C332.54 831.38 332.54 830.07 333.63 826.57C334.72 823.07 336.47 817.17 337.57 813.45C338.66 809.74 339.75 807.33 340.19 804.27C340.63 801.21 340.41 798.02 340.19 795.09C339.97 792.16 339.25 789.08 338.88 786.69C338.50 784.31 338.11 781.75 337.95 780.77L364.92 741.26L359.74 737.87L354.43 734.68L349.00 731.69L343.45 728.92L337.81 726.37L332.07 724.04L326.24 721.93L320.34 720.05L314.37 718.39L308.34 716.98L302.25 715.79L296.13 714.84L289.98 714.13L283.80 713.66L277.61 713.43L271.41 713.44L265.22 713.68L259.04 714.17L252.89 714.90L246.77 715.86L240.69 717.06L234.66 718.49L228.69 720.16L222.79 722.06Z" fill="#0022ff"/>
<path d="M257.09 758.98C256.95 759.97 256.60 762.40 256.24 764.92C255.88 767.44 255.46 770.61 254.93 774.10C254.41 777.60 253.45 782.41 253.10 785.91C252.75 789.41 253.62 792.25 252.83 795.09C252.05 797.93 250.43 800.55 248.37 802.96C246.32 805.36 242.25 806.89 240.50 809.52C238.75 812.14 238.19 815.42 237.88 818.70C237.57 821.98 237.79 825.69 238.67 829.19C239.54 832.69 241.51 836.84 243.13 839.69C244.74 842.53 246.41 844.06 248.37 846.24C250.34 848.43 252.75 850.40 254.93 852.80C257.12 855.21 259.30 858.70 261.49 860.67C263.68 862.64 265.73 863.73 268.05 864.61C270.37 865.48 272.77 866.14 275.39 865.92C278.02 865.70 280.86 864.39 283.79 863.29C286.72 862.20 290.35 861.11 292.97 859.36C295.59 857.61 297.56 854.77 299.53 852.80C301.50 850.83 303.03 849.52 304.77 847.56C306.52 845.59 308.49 843.40 310.02 841.00C311.55 838.59 312.86 835.97 313.96 833.13C315.05 830.29 315.49 826.79 316.58 823.95C317.67 821.10 319.86 818.70 320.51 816.08C321.17 813.45 321.17 811.05 320.51 808.21C319.86 805.36 318.11 802.08 316.58 799.02C315.05 795.96 312.64 793.12 311.33 789.84C310.02 786.56 309.37 782.63 308.71 779.35C308.05 776.07 307.76 772.69 307.40 770.17C307.04 767.65 306.69 765.22 306.55 764.23L319.51 719.80L316.71 719.01L313.89 718.27L311.06 717.59L308.22 716.95L305.37 716.37L302.51 715.84L299.64 715.36L296.76 714.93L293.88 714.55L290.98 714.23L288.09 713.96L285.18 713.74L282.28 713.58L279.37 713.47L276.46 713.41L273.55 713.41L270.64 713.45L267.73 713.55L264.82 713.71L261.92 713.91L259.02 714.17L256.13 714.48L253.24 714.85L250.36 715.26Z" fill="#0014f4" stroke="#0014f4" stroke-width="8" stroke-linejoin="round" filter="url(#bl3)"/>
<path d="M257.09 758.98C256.95 759.97 256.60 762.40 256.24 764.92C255.88 767.44 255.46 770.61 254.93 774.10C254.41 777.60 253.45 782.41 253.10 785.91C252.75 789.41 253.62 792.25 252.83 795.09C252.05 797.93 250.43 800.55 248.37 802.96C246.32 805.36 242.25 806.89 240.50 809.52C238.75 812.14 238.19 815.42 237.88 818.70C237.57 821.98 237.79 825.69 238.67 829.19C239.54 832.69 241.51 836.84 243.13 839.69C244.74 842.53 246.41 844.06 248.37 846.24C250.34 848.43 252.75 850.40 254.93 852.80C257.12 855.21 259.30 858.70 261.49 860.67C263.68 862.64 265.73 863.73 268.05 864.61C270.37 865.48 272.77 866.14 275.39 865.92C278.02 865.70 280.86 864.39 283.79 863.29C286.72 862.20 290.35 861.11 292.97 859.36C295.59 857.61 297.56 854.77 299.53 852.80C301.50 850.83 303.03 849.52 304.77 847.56C306.52 845.59 308.49 843.40 310.02 841.00C311.55 838.59 312.86 835.97 313.96 833.13C315.05 830.29 315.49 826.79 316.58 823.95C317.67 821.10 319.86 818.70 320.51 816.08C321.17 813.45 321.17 811.05 320.51 808.21C319.86 805.36 318.11 802.08 316.58 799.02C315.05 795.96 312.64 793.12 311.33 789.84C310.02 786.56 309.37 782.63 308.71 779.35C308.05 776.07 307.76 772.69 307.40 770.17C307.04 767.65 306.69 765.22 306.55 764.23L319.51 719.80L316.71 719.01L313.89 718.27L311.06 717.59L308.22 716.95L305.37 716.37L302.51 715.84L299.64 715.36L296.76 714.93L293.88 714.55L290.98 714.23L288.09 713.96L285.18 713.74L282.28 713.58L279.37 713.47L276.46 713.41L273.55 713.41L270.64 713.45L267.73 713.55L264.82 713.71L261.92 713.91L259.02 714.17L256.13 714.48L253.24 714.85L250.36 715.26Z" fill="#0008e6"/>
</g>
<path d="M257.09 758.98C256.95 759.97 256.60 762.40 256.24 764.92C255.88 767.44 255.46 770.61 254.93 774.10C254.41 777.60 253.45 782.41 253.10 785.91C252.75 789.41 253.62 792.25 252.83 795.09C252.05 797.93 250.43 800.55 248.37 802.96C246.32 805.36 242.25 806.89 240.50 809.52C238.75 812.14 238.19 815.42 237.88 818.70C237.57 821.98 237.79 825.69 238.67 829.19C239.54 832.69 241.51 836.84 243.13 839.69C244.74 842.53 246.41 844.06 248.37 846.24C250.34 848.43 252.75 850.40 254.93 852.80C257.12 855.21 259.30 858.70 261.49 860.67C263.68 862.64 265.73 863.73 268.05 864.61C270.37 865.48 272.77 866.14 275.39 865.92C278.02 865.70 280.86 864.39 283.79 863.29C286.72 862.20 290.35 861.11 292.97 859.36C295.59 857.61 297.56 854.77 299.53 852.80C301.50 850.83 303.03 849.52 304.77 847.56C306.52 845.59 308.49 843.40 310.02 841.00C311.55 838.59 312.86 835.97 313.96 833.13C315.05 830.29 315.49 826.79 316.58 823.95C317.67 821.10 319.86 818.70 320.51 816.08C321.17 813.45 321.17 811.05 320.51 808.21C319.86 805.36 318.11 802.08 316.58 799.02C315.05 795.96 312.64 793.12 311.33 789.84C310.02 786.56 309.37 782.63 308.71 779.35C308.05 776.07 307.76 772.69 307.40 770.17C307.04 767.65 306.69 765.22 306.55 764.23" stroke="#433a3a" stroke-width="1.6" fill="none"/>
<path d="M238.22 767.02C237.94 767.98 237.28 770.30 236.57 772.79C235.86 775.28 234.82 778.69 233.95 781.97C233.07 785.25 232.63 788.97 231.32 792.47C230.01 795.96 227.17 799.46 226.08 802.96C224.98 806.46 224.85 809.95 224.76 813.45C224.68 816.95 224.90 820.45 225.55 823.95C226.21 827.44 227.30 830.94 228.70 834.44C230.10 837.94 231.98 841.43 233.95 844.93C235.91 848.43 238.32 852.36 240.50 855.42C242.69 858.49 244.66 860.89 247.06 863.29C249.47 865.70 252.31 867.89 254.93 869.85C257.56 871.82 259.96 873.79 262.80 875.10C265.64 876.41 268.92 877.29 271.98 877.72C275.04 878.16 277.89 878.16 281.16 877.72C284.44 877.29 288.16 876.41 291.66 875.10C295.16 873.79 299.09 871.82 302.15 869.85C305.21 867.89 307.40 865.70 310.02 863.29C312.64 860.89 315.49 858.49 317.89 855.42C320.30 852.36 322.26 848.43 324.45 844.93C326.64 841.43 329.48 837.50 331.01 834.44C332.54 831.38 332.54 830.07 333.63 826.57C334.72 823.07 336.47 817.17 337.57 813.45C338.66 809.74 339.75 807.33 340.19 804.27C340.63 801.21 340.41 798.02 340.19 795.09C339.97 792.16 339.25 789.08 338.88 786.69C338.50 784.31 338.11 781.75 337.95 780.77" stroke="#433a3a" stroke-width="1.6" fill="none"/>
<path d="M225.61 770.79C225.47 771.78 225.12 774.21 224.76 776.73C224.40 779.25 223.89 782.63 223.45 785.91C223.02 789.19 223.02 793.34 222.14 796.40C221.27 799.46 219.52 801.43 218.21 804.27C216.89 807.11 215.01 810.17 214.27 813.45C213.53 816.73 213.31 820.45 213.75 823.95C214.18 827.44 215.71 831.16 216.89 834.44C218.07 837.72 219.30 840.56 220.83 843.62C222.36 846.68 224.11 849.52 226.08 852.80C228.04 856.08 230.23 859.80 232.63 863.29C235.04 866.79 237.88 870.51 240.50 873.79C243.13 877.07 245.53 880.13 248.37 882.97C251.22 885.81 254.28 889.31 257.56 890.84C260.83 892.37 264.11 892.15 268.05 892.15C271.98 892.15 276.79 891.50 281.16 890.84C285.54 890.18 289.91 889.53 294.28 888.22C298.65 886.90 303.24 885.16 307.40 882.97C311.55 880.78 315.70 877.94 319.20 875.10C322.70 872.26 325.32 868.76 328.38 865.92C331.44 863.08 334.51 860.89 337.57 858.05C340.63 855.21 343.91 852.36 346.75 848.87C349.59 845.37 352.43 841.22 354.62 837.06C356.80 832.91 358.33 827.66 359.86 823.95C361.39 820.23 362.75 817.21 363.80 814.76C364.85 812.31 365.77 810.17 366.16 809.25" stroke="#433a3a" stroke-width="1.6" fill="none"/>
<path d="M213.54 782.84C213.23 783.79 212.40 786.27 211.65 788.53C210.89 790.79 210.34 793.78 209.02 796.40C207.71 799.02 205.09 801.43 203.78 804.27C202.47 807.11 201.81 810.17 201.15 813.45C200.50 816.73 199.62 820.01 199.84 823.95C200.06 827.88 201.37 833.13 202.47 837.06C203.56 841.00 204.43 843.84 206.40 847.56C208.37 851.27 211.65 855.86 214.27 859.36C216.89 862.86 219.52 865.26 222.14 868.54C224.76 871.82 227.61 875.54 230.01 879.03C232.42 882.53 234.69 886.47 236.57 889.53C238.45 892.59 239.89 895.04 241.29 897.40C242.69 899.76 242.91 901.94 244.96 903.69C247.02 905.44 250.65 906.84 253.62 907.89C256.59 908.94 259.52 909.46 262.80 909.99C266.08 910.51 269.36 911.39 273.29 911.04C277.23 910.69 281.95 909.64 286.41 907.89C290.87 906.14 295.90 902.73 300.05 900.55C304.21 898.36 306.65 897.83 311.33 894.77C316.01 891.71 323.18 886.16 328.12 882.18C333.06 878.20 337.22 873.04 340.98 870.90C344.74 868.76 347.88 870.99 350.68 869.33C353.48 867.67 356.10 864.91 357.76 860.93C359.43 856.96 358.99 849.22 360.65 845.46C362.31 841.70 365.46 840.65 367.73 838.37C370.01 836.10 372.49 833.62 374.29 831.82C376.09 830.02 377.83 828.28 378.53 827.57" stroke="#433a3a" stroke-width="1.6" fill="none"/>
<path d="M182.79 810.08C182.79 811.08 182.79 813.33 182.79 816.08C182.79 818.82 182.57 823.07 182.79 826.57C183.01 830.07 183.23 833.56 184.10 837.06C184.98 840.56 186.29 844.06 188.04 847.56C189.79 851.05 192.19 854.55 194.60 858.05C197.00 861.55 199.62 865.04 202.47 868.54C205.31 872.04 208.67 875.76 211.65 879.03C214.62 882.31 217.81 885.16 220.30 888.22C222.80 891.28 224.50 894.12 226.60 897.40C228.70 900.68 230.45 904.61 232.90 907.89C235.34 911.17 238.06 914.01 241.29 917.07C244.53 920.13 248.94 923.63 252.31 926.25C255.68 928.88 257.99 931.50 261.49 932.81C264.99 934.12 269.58 934.12 273.29 934.12C277.01 934.12 280.95 933.91 283.79 932.81C286.63 931.72 288.16 929.31 290.35 927.57C292.53 925.82 294.06 923.63 296.90 922.32C299.75 921.01 304.99 920.48 307.40 919.70C309.80 918.91 309.02 919.13 311.33 917.60C313.65 916.07 317.32 913.57 321.30 910.51C325.28 907.45 330.75 902.56 335.20 899.23C339.66 895.91 344.52 892.24 348.06 890.58C351.60 888.92 353.17 889.97 356.45 889.27C359.73 888.57 364.41 887.78 367.73 886.38C371.06 884.98 373.90 882.75 376.39 880.87C378.88 878.99 380.90 876.74 382.69 875.10C384.47 873.46 386.37 871.72 387.11 871.05" stroke="#433a3a" stroke-width="1.6" fill="none"/>
<path d="M163.87 845.09C164.40 845.94 165.43 847.58 167.05 850.18C168.67 852.78 171.20 857.17 173.61 860.67C176.01 864.17 178.86 867.67 181.48 871.16C184.10 874.66 186.55 877.72 189.35 881.66C192.15 885.59 195.30 890.62 198.27 894.77C201.24 898.93 204.13 902.64 207.19 906.58C210.25 910.51 213.48 914.67 216.63 918.38C219.78 922.10 223.36 925.60 226.08 928.88C228.79 932.16 230.93 935.00 232.90 938.06C234.86 941.12 236.61 943.96 237.88 947.24C239.15 950.52 239.41 954.67 240.50 957.73C241.60 960.79 242.47 963.42 244.44 965.60C246.41 967.79 249.25 969.54 252.31 970.85C255.37 972.16 258.87 972.82 262.80 973.47C266.74 974.13 271.98 975.22 275.92 974.78C279.85 974.35 283.35 972.60 286.41 970.85C289.47 969.10 291.88 966.70 294.28 964.29C296.69 961.89 298.65 959.70 300.84 956.42C303.03 953.14 305.43 948.11 307.40 944.62C309.37 941.12 310.24 938.06 312.64 935.44C315.05 932.81 318.33 930.84 321.83 928.88C325.32 926.91 330.79 924.72 333.63 923.63C336.47 922.54 336.91 921.88 338.88 922.32C340.84 922.76 342.81 926.04 345.44 926.25C348.06 926.47 350.68 924.16 354.62 923.63C358.55 923.11 365.64 923.23 369.05 923.11C372.45 922.98 374.04 922.92 375.04 922.89" stroke="#433a3a" stroke-width="1.6" fill="none"/>
</g>
<path d="M253.91 765.6L267.11 750.0Q269.71 746.9 274.71 746.9Q279.71 746.9 282.31 750.0L295.51 765.6" fill="none" stroke="#000" stroke-width="2.9" stroke-linejoin="round"/>
<path d="M381.81 851.50C382.31 850.92 383.73 848.83 384.81 848.00C385.89 847.17 387.06 846.42 388.31 846.50C389.56 846.58 391.31 847.58 392.31 848.50C393.31 849.42 393.96 850.42 394.31 852.00C394.66 853.58 394.58 855.67 394.41 858.00C394.24 860.33 393.53 863.33 393.31 866.00C393.09 868.67 392.98 871.00 393.11 874.00C393.24 877.00 393.78 881.00 394.11 884.00C394.44 887.00 395.11 889.67 395.11 892.00C395.11 894.33 394.74 896.33 394.11 898.00C393.48 899.67 392.44 901.00 391.31 902.00C390.18 903.00 388.48 903.92 387.31 904.00C386.14 904.08 385.23 903.17 384.31 902.50C383.39 901.83 382.23 900.42 381.81 900.00" fill="none" stroke="#000" stroke-width="2.4" stroke-linejoin="round"/>
<path d="M167.61 851.50C167.11 850.92 165.69 848.83 164.61 848.00C163.53 847.17 162.36 846.42 161.11 846.50C159.86 846.58 158.11 847.58 157.11 848.50C156.11 849.42 155.46 850.42 155.11 852.00C154.76 853.58 154.84 855.67 155.01 858.00C155.18 860.33 155.89 863.33 156.11 866.00C156.33 868.67 156.44 871.00 156.31 874.00C156.18 877.00 155.64 881.00 155.31 884.00C154.98 887.00 154.31 889.67 154.31 892.00C154.31 894.33 154.68 896.33 155.31 898.00C155.94 899.67 156.98 901.00 158.11 902.00C159.24 903.00 160.94 903.92 162.11 904.00C163.28 904.08 164.19 903.17 165.11 902.50C166.03 901.83 167.19 900.42 167.61 900.00" fill="none" stroke="#000" stroke-width="2.4" stroke-linejoin="round"/>
<circle cx="274.71" cy="873.4" r="109.85" fill="none" stroke="#000" stroke-width="2.8"/>
<circle cx="274.71" cy="829.30" r="3.9" fill="#000"/>
<circle cx="274.71" cy="961.80" r="3.9" fill="#000"/>
<g clip-path="url(#cF)"><g filter="url(#bl)">
<linearGradient id="gF12" gradientUnits="userSpaceOnUse" x1="0" y1="845" x2="0" y2="925"><stop offset="0" stop-color="#38ffc8"/><stop offset="1" stop-color="#60ffa0"/></linearGradient>
<linearGradient id="gF23" gradientUnits="userSpaceOnUse" x1="0" y1="830" x2="0" y2="955"><stop offset="0" stop-color="#a4ff5c"/><stop offset="1" stop-color="#e0ff20"/></linearGradient>
<rect x="608.6" y="733.4" width="280" height="280" fill="url(#gF12)"/>
<path d="M640.91 836.53C641.81 836.96 643.43 837.76 646.30 839.16C649.16 840.56 653.95 842.66 658.10 844.93C662.26 847.21 668.60 849.74 671.22 852.80C673.84 855.86 672.97 859.80 673.84 863.29C674.72 866.79 675.15 870.73 676.47 873.79C677.78 876.85 679.53 880.00 681.71 881.66C683.90 883.32 686.52 883.32 689.58 883.76C692.64 884.19 697.02 883.76 700.08 884.28C703.14 884.81 705.54 886.25 707.95 886.90C710.35 887.56 712.75 888.65 714.50 888.22C716.25 887.78 717.35 886.69 718.44 884.28C719.53 881.88 719.75 876.85 721.06 873.79C722.37 870.73 723.69 868.10 726.31 865.92C728.93 863.73 733.30 862.20 736.80 860.67C740.30 859.14 743.80 857.83 747.29 856.74C750.79 855.64 754.29 853.89 757.79 854.11C761.29 854.33 764.78 857.17 768.28 858.05C771.78 858.92 776.15 859.80 778.77 859.36C781.40 858.92 782.49 857.17 784.02 855.42C785.55 853.68 785.77 851.05 787.96 848.87C790.14 846.68 794.51 844.71 797.14 842.31C799.76 839.90 801.95 838.37 803.70 834.44C805.44 830.50 807.41 823.51 807.63 818.70C807.85 813.89 805.88 809.52 805.01 805.58C804.13 801.65 802.47 799.24 802.38 795.09C802.30 790.94 803.99 784.06 804.48 780.66C804.98 777.27 805.20 775.71 805.35 774.72L828.36 734.70L817.97 729.22L807.20 724.52L796.12 720.62L784.78 717.54L773.24 715.31L761.58 713.93L749.84 713.41L738.09 713.75L726.41 714.95L714.84 717.00L703.45 719.90L692.31 723.63L681.47 728.17L671.00 733.48L660.94 739.56L651.35 746.35L642.29 753.83L633.80 761.95L625.94 770.68L618.73 779.96L612.22 789.74L606.45 799.97L601.45 810.60L597.23 821.57Z" fill="#00e4ff"/>
<ellipse cx="727" cy="798" rx="42" ry="34" fill="url(#rgLB2)"/>
<ellipse cx="715.8" cy="818.7" rx="20" ry="26" fill="url(#rgLB)"/>
<path d="M848.97 820.10C848.20 820.74 846.44 822.21 844.36 823.95C842.28 825.68 838.89 828.10 836.49 830.50C834.08 832.91 831.68 835.53 829.93 838.37C828.18 841.22 826.21 843.84 825.99 847.56C825.78 851.27 827.52 856.74 828.62 860.67C829.71 864.61 832.33 868.10 832.55 871.16C832.77 874.23 831.46 876.85 829.93 879.03C828.40 881.22 825.78 881.66 823.37 884.28C820.97 886.90 817.91 891.28 815.50 894.77C813.10 898.27 811.13 901.77 808.94 905.27C806.76 908.77 804.35 913.14 802.38 915.76C800.42 918.38 799.32 920.05 797.14 921.01C794.95 921.97 791.89 922.19 789.27 921.53C786.64 920.88 784.02 918.91 781.40 917.07C778.77 915.24 776.15 912.70 773.53 910.51C770.90 908.33 768.28 905.70 765.66 903.96C763.03 902.21 760.85 900.76 757.79 900.02C754.73 899.28 750.79 899.15 747.29 899.50C743.80 899.85 740.74 900.81 736.80 902.12C732.87 903.43 728.06 906.05 723.69 907.37C719.31 908.68 714.94 909.25 710.57 909.99C706.20 910.73 702.26 911.21 697.45 911.83C692.64 912.44 686.96 912.92 681.71 913.66C676.47 914.41 670.78 915.06 665.97 916.29C661.16 917.51 655.98 919.88 652.86 921.01C649.73 922.13 648.15 922.70 647.21 923.04L604.90 943.75L615.44 962.09L628.30 978.88L643.26 993.82L660.06 1006.67L678.41 1017.18L697.99 1025.18L718.45 1030.53L739.43 1033.14L760.58 1032.95L781.52 1029.98L801.88 1024.27L821.31 1015.93L839.48 1005.09L856.05 991.96L870.75 976.75L883.31 959.74L893.52 941.22L901.20 921.52L906.21 900.97L908.47 879.94L907.94 858.80L904.62 837.92L898.58 817.65L889.92 798.36Z" fill="#88ff78" stroke="#88ff78" stroke-width="10" stroke-linejoin="round" filter="url(#bl3)"/>
<path d="M848.97 820.10C848.20 820.74 846.44 822.21 844.36 823.95C842.28 825.68 838.89 828.10 836.49 830.50C834.08 832.91 831.68 835.53 829.93 838.37C828.18 841.22 826.21 843.84 825.99 847.56C825.78 851.27 827.52 856.74 828.62 860.67C829.71 864.61 832.33 868.10 832.55 871.16C832.77 874.23 831.46 876.85 829.93 879.03C828.40 881.22 825.78 881.66 823.37 884.28C820.97 886.90 817.91 891.28 815.50 894.77C813.10 898.27 811.13 901.77 808.94 905.27C806.76 908.77 804.35 913.14 802.38 915.76C800.42 918.38 799.32 920.05 797.14 921.01C794.95 921.97 791.89 922.19 789.27 921.53C786.64 920.88 784.02 918.91 781.40 917.07C778.77 915.24 776.15 912.70 773.53 910.51C770.90 908.33 768.28 905.70 765.66 903.96C763.03 902.21 760.85 900.76 757.79 900.02C754.73 899.28 750.79 899.15 747.29 899.50C743.80 899.85 740.74 900.81 736.80 902.12C732.87 903.43 728.06 906.05 723.69 907.37C719.31 908.68 714.94 909.25 710.57 909.99C706.20 910.73 702.26 911.21 697.45 911.83C692.64 912.44 686.96 912.92 681.71 913.66C676.47 914.41 670.78 915.06 665.97 916.29C661.16 917.51 655.98 919.88 652.86 921.01C649.73 922.13 648.15 922.70 647.21 923.04L604.90 943.75L615.44 962.09L628.30 978.88L643.26 993.82L660.06 1006.67L678.41 1017.18L697.99 1025.18L718.45 1030.53L739.43 1033.14L760.58 1032.95L781.52 1029.98L801.88 1024.27L821.31 1015.93L839.48 1005.09L856.05 991.96L870.75 976.75L883.31 959.74L893.52 941.22L901.20 921.52L906.21 900.97L908.47 879.94L907.94 858.80L904.62 837.92L898.58 817.65L889.92 798.36Z" fill="#a4ff5c"/>
<path d="M664.02 951.67C664.70 950.93 666.00 949.51 668.07 947.24C670.15 944.97 673.32 940.24 676.47 938.06C679.61 935.87 682.59 935.65 686.96 934.12C691.33 932.59 697.89 930.41 702.70 928.88C707.51 927.35 711.44 926.34 715.82 924.94C720.19 923.54 724.56 922.01 728.93 920.48C733.30 918.95 738.55 916.77 742.05 915.76C745.55 914.76 747.29 914.23 749.92 914.45C752.54 914.67 755.16 915.76 757.79 917.07C760.41 918.38 762.60 920.35 765.66 922.32C768.72 924.29 772.65 926.47 776.15 928.88C779.65 931.28 783.58 934.12 786.64 936.75C789.70 939.37 792.33 942.87 794.51 944.62C796.70 946.37 797.14 947.02 799.76 947.24C802.38 947.46 806.32 947.24 810.25 945.93C814.19 944.62 819.44 941.99 823.37 939.37C827.31 936.75 830.28 932.59 833.86 930.19C837.45 927.78 842.14 926.25 844.88 924.94C847.62 923.64 849.40 922.79 850.30 922.36L892.77 942.81L886.67 954.26L879.67 965.18L871.80 975.49L863.13 985.14L853.70 994.05L843.58 1002.16L832.84 1009.43L821.54 1015.81L809.77 1021.25L797.59 1025.72L785.09 1029.19L772.35 1031.63L759.46 1033.03L746.49 1033.39L733.54 1032.69L720.68 1030.95L708.01 1028.17L695.61 1024.37L683.56 1019.58L671.93 1013.83L660.80 1007.16L650.26 999.61L640.36 991.22L631.17 982.07Z" fill="#e8ff18" stroke="#e8ff18" stroke-width="10" stroke-linejoin="round" filter="url(#bl3)"/>
<path d="M664.02 951.67C664.70 950.93 666.00 949.51 668.07 947.24C670.15 944.97 673.32 940.24 676.47 938.06C679.61 935.87 682.59 935.65 686.96 934.12C691.33 932.59 697.89 930.41 702.70 928.88C707.51 927.35 711.44 926.34 715.82 924.94C720.19 923.54 724.56 922.01 728.93 920.48C733.30 918.95 738.55 916.77 742.05 915.76C745.55 914.76 747.29 914.23 749.92 914.45C752.54 914.67 755.16 915.76 757.79 917.07C760.41 918.38 762.60 920.35 765.66 922.32C768.72 924.29 772.65 926.47 776.15 928.88C779.65 931.28 783.58 934.12 786.64 936.75C789.70 939.37 792.33 942.87 794.51 944.62C796.70 946.37 797.14 947.02 799.76 947.24C802.38 947.46 806.32 947.24 810.25 945.93C814.19 944.62 819.44 941.99 823.37 939.37C827.31 936.75 830.28 932.59 833.86 930.19C837.45 927.78 842.14 926.25 844.88 924.94C847.62 923.64 849.40 922.79 850.30 922.36L892.77 942.81L886.67 954.26L879.67 965.18L871.80 975.49L863.13 985.14L853.70 994.05L843.58 1002.16L832.84 1009.43L821.54 1015.81L809.77 1021.25L797.59 1025.72L785.09 1029.19L772.35 1031.63L759.46 1033.03L746.49 1033.39L733.54 1032.69L720.68 1030.95L708.01 1028.17L695.61 1024.37L683.56 1019.58L671.93 1013.83L660.80 1007.16L650.26 999.61L640.36 991.22L631.17 982.07Z" fill="#ffcc00"/>
<path d="M683.83 967.84C684.00 966.86 684.34 964.93 684.86 961.93C685.38 958.93 685.30 952.75 686.96 949.86C688.62 946.98 691.77 946.15 694.83 944.62C697.89 943.09 701.82 942.21 705.32 940.68C708.82 939.15 711.88 936.97 715.82 935.44C719.75 933.91 724.56 932.68 728.93 931.50C733.30 930.32 738.55 929.01 742.05 928.35C745.55 927.70 747.29 927.39 749.92 927.57C752.54 927.74 755.16 928.09 757.79 929.40C760.41 930.71 763.03 933.12 765.66 935.44C768.28 937.75 771.12 940.68 773.53 943.31C775.93 945.93 778.34 948.33 780.09 951.18C781.83 954.02 782.93 957.51 784.02 960.36C785.11 963.20 785.77 965.87 786.64 968.23C787.52 970.59 788.45 972.55 789.27 974.52C790.09 976.49 791.19 979.14 791.58 980.06L808.39 1021.81L802.26 1024.14L796.04 1026.21L789.73 1028.03L783.36 1029.58L776.93 1030.87L770.45 1031.90L763.93 1032.67L757.39 1033.16L750.83 1033.39L744.27 1033.34L737.72 1033.03L731.18 1032.45L724.68 1031.60L718.21 1030.49L711.80 1029.11L705.45 1027.47L699.17 1025.57L692.97 1023.42L686.87 1021.01L680.87 1018.35L674.98 1015.46L669.22 1012.32L663.59 1008.95L658.11 1005.35Z" fill="#ff9800" stroke="#ff9800" stroke-width="8" stroke-linejoin="round" filter="url(#bl3)"/>
<path d="M683.83 967.84C684.00 966.86 684.34 964.93 684.86 961.93C685.38 958.93 685.30 952.75 686.96 949.86C688.62 946.98 691.77 946.15 694.83 944.62C697.89 943.09 701.82 942.21 705.32 940.68C708.82 939.15 711.88 936.97 715.82 935.44C719.75 933.91 724.56 932.68 728.93 931.50C733.30 930.32 738.55 929.01 742.05 928.35C745.55 927.70 747.29 927.39 749.92 927.57C752.54 927.74 755.16 928.09 757.79 929.40C760.41 930.71 763.03 933.12 765.66 935.44C768.28 937.75 771.12 940.68 773.53 943.31C775.93 945.93 778.34 948.33 780.09 951.18C781.83 954.02 782.93 957.51 784.02 960.36C785.11 963.20 785.77 965.87 786.64 968.23C787.52 970.59 788.45 972.55 789.27 974.52C790.09 976.49 791.19 979.14 791.58 980.06L808.39 1021.81L802.26 1024.14L796.04 1026.21L789.73 1028.03L783.36 1029.58L776.93 1030.87L770.45 1031.90L763.93 1032.67L757.39 1033.16L750.83 1033.39L744.27 1033.34L737.72 1033.03L731.18 1032.45L724.68 1031.60L718.21 1030.49L711.80 1029.11L705.45 1027.47L699.17 1025.57L692.97 1023.42L686.87 1021.01L680.87 1018.35L674.98 1015.46L669.22 1012.32L663.59 1008.95L658.11 1005.35Z" fill="#ff5400"/>
<path d="M703.61 978.09C703.46 977.10 703.20 975.42 702.70 972.16C702.20 968.90 700.16 962.72 700.60 958.52C701.04 954.32 702.79 949.95 705.32 946.98C707.86 944.00 711.97 942.12 715.82 940.68C719.66 939.24 724.03 938.71 728.41 938.32C732.78 937.93 737.81 938.15 742.05 938.32C746.29 938.50 750.14 938.32 753.85 939.37C757.57 940.42 761.46 942.61 764.35 944.62C767.23 946.63 769.81 948.73 771.17 951.44C772.52 954.15 772.61 957.86 772.48 960.88C772.35 963.90 771.30 966.35 770.38 969.54C769.46 972.73 767.85 977.33 766.97 980.03C766.09 982.73 765.42 984.79 765.12 985.74L771.87 1031.70L768.22 1032.19L764.57 1032.60L760.90 1032.93L757.23 1033.17L753.56 1033.32L749.88 1033.40L746.20 1033.38L742.52 1033.29L738.85 1033.10L735.18 1032.84L731.52 1032.49L727.86 1032.05L724.22 1031.53L720.59 1030.93L716.98 1030.24L713.38 1029.48L709.80 1028.62L706.24 1027.69L702.71 1026.68L699.20 1025.58L695.71 1024.40L692.25 1023.15L688.82 1021.81L685.43 1020.40Z" fill="#ff2600" stroke="#ff2600" stroke-width="6" stroke-linejoin="round" filter="url(#bl3)"/>
<path d="M703.61 978.09C703.46 977.10 703.20 975.42 702.70 972.16C702.20 968.90 700.16 962.72 700.60 958.52C701.04 954.32 702.79 949.95 705.32 946.98C707.86 944.00 711.97 942.12 715.82 940.68C719.66 939.24 724.03 938.71 728.41 938.32C732.78 937.93 737.81 938.15 742.05 938.32C746.29 938.50 750.14 938.32 753.85 939.37C757.57 940.42 761.46 942.61 764.35 944.62C767.23 946.63 769.81 948.73 771.17 951.44C772.52 954.15 772.61 957.86 772.48 960.88C772.35 963.90 771.30 966.35 770.38 969.54C769.46 972.73 767.85 977.33 766.97 980.03C766.09 982.73 765.42 984.79 765.12 985.74L771.87 1031.70L768.22 1032.19L764.57 1032.60L760.90 1032.93L757.23 1033.17L753.56 1033.32L749.88 1033.40L746.20 1033.38L742.52 1033.29L738.85 1033.10L735.18 1032.84L731.52 1032.49L727.86 1032.05L724.22 1031.53L720.59 1030.93L716.98 1030.24L713.38 1029.48L709.80 1028.62L706.24 1027.69L702.71 1026.68L699.20 1025.58L695.71 1024.40L692.25 1023.15L688.82 1021.81L685.43 1020.40Z" fill="#f00800"/>
<path d="M714.50 957.73C715.03 955.55 716.12 951.96 718.44 949.86C720.76 947.76 724.91 946.02 728.41 945.14C731.90 944.27 735.84 944.62 739.42 944.62C743.01 944.62 746.64 944.62 749.92 945.14C753.20 945.67 757.13 945.88 759.10 947.76C761.07 949.64 761.42 953.89 761.72 956.42C762.03 958.96 761.81 960.79 760.94 962.98C760.06 965.17 758.75 967.88 756.48 969.54C754.20 971.20 750.14 972.29 747.29 972.95C744.45 973.60 742.49 973.56 739.42 973.47C736.36 973.39 732.21 973.30 728.93 972.42C725.65 971.55 722.02 969.80 719.75 968.23C717.48 966.65 716.17 964.73 715.29 962.98C714.42 961.23 713.98 959.92 714.50 957.73Z" fill="#c00000" stroke="#c00000" stroke-width="5" stroke-linejoin="round" filter="url(#bl3)"/>
<path d="M714.50 957.73C715.03 955.55 716.12 951.96 718.44 949.86C720.76 947.76 724.91 946.02 728.41 945.14C731.90 944.27 735.84 944.62 739.42 944.62C743.01 944.62 746.64 944.62 749.92 945.14C753.20 945.67 757.13 945.88 759.10 947.76C761.07 949.64 761.42 953.89 761.72 956.42C762.03 958.96 761.81 960.79 760.94 962.98C760.06 965.17 758.75 967.88 756.48 969.54C754.20 971.20 750.14 972.29 747.29 972.95C744.45 973.60 742.49 973.56 739.42 973.47C736.36 973.39 732.21 973.30 728.93 972.42C725.65 971.55 722.02 969.80 719.75 968.23C717.48 966.65 716.17 964.73 715.29 962.98C714.42 961.23 713.98 959.92 714.50 957.73Z" fill="#8c0000"/>
</g>
<path d="M640.91 836.53C641.81 836.96 643.43 837.76 646.30 839.16C649.16 840.56 653.95 842.66 658.10 844.93C662.26 847.21 668.60 849.74 671.22 852.80C673.84 855.86 672.97 859.80 673.84 863.29C674.72 866.79 675.15 870.73 676.47 873.79C677.78 876.85 679.53 880.00 681.71 881.66C683.90 883.32 686.52 883.32 689.58 883.76C692.64 884.19 697.02 883.76 700.08 884.28C703.14 884.81 705.54 886.25 707.95 886.90C710.35 887.56 712.75 888.65 714.50 888.22C716.25 887.78 717.35 886.69 718.44 884.28C719.53 881.88 719.75 876.85 721.06 873.79C722.37 870.73 723.69 868.10 726.31 865.92C728.93 863.73 733.30 862.20 736.80 860.67C740.30 859.14 743.80 857.83 747.29 856.74C750.79 855.64 754.29 853.89 757.79 854.11C761.29 854.33 764.78 857.17 768.28 858.05C771.78 858.92 776.15 859.80 778.77 859.36C781.40 858.92 782.49 857.17 784.02 855.42C785.55 853.68 785.77 851.05 787.96 848.87C790.14 846.68 794.51 844.71 797.14 842.31C799.76 839.90 801.95 838.37 803.70 834.44C805.44 830.50 807.41 823.51 807.63 818.70C807.85 813.89 805.88 809.52 805.01 805.58C804.13 801.65 802.47 799.24 802.38 795.09C802.30 790.94 803.99 784.06 804.48 780.66C804.98 777.27 805.20 775.71 805.35 774.72" stroke="#433a3a" stroke-width="1.6" fill="none"/>
<path d="M848.97 820.10C848.20 820.74 846.44 822.21 844.36 823.95C842.28 825.68 838.89 828.10 836.49 830.50C834.08 832.91 831.68 835.53 829.93 838.37C828.18 841.22 826.21 843.84 825.99 847.56C825.78 851.27 827.52 856.74 828.62 860.67C829.71 864.61 832.33 868.10 832.55 871.16C832.77 874.23 831.46 876.85 829.93 879.03C828.40 881.22 825.78 881.66 823.37 884.28C820.97 886.90 817.91 891.28 815.50 894.77C813.10 898.27 811.13 901.77 808.94 905.27C806.76 908.77 804.35 913.14 802.38 915.76C800.42 918.38 799.32 920.05 797.14 921.01C794.95 921.97 791.89 922.19 789.27 921.53C786.64 920.88 784.02 918.91 781.40 917.07C778.77 915.24 776.15 912.70 773.53 910.51C770.90 908.33 768.28 905.70 765.66 903.96C763.03 902.21 760.85 900.76 757.79 900.02C754.73 899.28 750.79 899.15 747.29 899.50C743.80 899.85 740.74 900.81 736.80 902.12C732.87 903.43 728.06 906.05 723.69 907.37C719.31 908.68 714.94 909.25 710.57 909.99C706.20 910.73 702.26 911.21 697.45 911.83C692.64 912.44 686.96 912.92 681.71 913.66C676.47 914.41 670.78 915.06 665.97 916.29C661.16 917.51 655.98 919.88 652.86 921.01C649.73 922.13 648.15 922.70 647.21 923.04" stroke="#433a3a" stroke-width="1.6" fill="none"/>
<path d="M664.02 951.67C664.70 950.93 666.00 949.51 668.07 947.24C670.15 944.97 673.32 940.24 676.47 938.06C679.61 935.87 682.59 935.65 686.96 934.12C691.33 932.59 697.89 930.41 702.70 928.88C707.51 927.35 711.44 926.34 715.82 924.94C720.19 923.54 724.56 922.01 728.93 920.48C733.30 918.95 738.55 916.77 742.05 915.76C745.55 914.76 747.29 914.23 749.92 914.45C752.54 914.67 755.16 915.76 757.79 917.07C760.41 918.38 762.60 920.35 765.66 922.32C768.72 924.29 772.65 926.47 776.15 928.88C779.65 931.28 783.58 934.12 786.64 936.75C789.70 939.37 792.33 942.87 794.51 944.62C796.70 946.37 797.14 947.02 799.76 947.24C802.38 947.46 806.32 947.24 810.25 945.93C814.19 944.62 819.44 941.99 823.37 939.37C827.31 936.75 830.28 932.59 833.86 930.19C837.45 927.78 842.14 926.25 844.88 924.94C847.62 923.64 849.40 922.79 850.30 922.36" stroke="#433a3a" stroke-width="1.6" fill="none"/>
<path d="M683.83 967.84C684.00 966.86 684.34 964.93 684.86 961.93C685.38 958.93 685.30 952.75 686.96 949.86C688.62 946.98 691.77 946.15 694.83 944.62C697.89 943.09 701.82 942.21 705.32 940.68C708.82 939.15 711.88 936.97 715.82 935.44C719.75 933.91 724.56 932.68 728.93 931.50C733.30 930.32 738.55 929.01 742.05 928.35C745.55 927.70 747.29 927.39 749.92 927.57C752.54 927.74 755.16 928.09 757.79 929.40C760.41 930.71 763.03 933.12 765.66 935.44C768.28 937.75 771.12 940.68 773.53 943.31C775.93 945.93 778.34 948.33 780.09 951.18C781.83 954.02 782.93 957.51 784.02 960.36C785.11 963.20 785.77 965.87 786.64 968.23C787.52 970.59 788.45 972.55 789.27 974.52C790.09 976.49 791.19 979.14 791.58 980.06" stroke="#433a3a" stroke-width="1.6" fill="none"/>
<path d="M703.61 978.09C703.46 977.10 703.20 975.42 702.70 972.16C702.20 968.90 700.16 962.72 700.60 958.52C701.04 954.32 702.79 949.95 705.32 946.98C707.86 944.00 711.97 942.12 715.82 940.68C719.66 939.24 724.03 938.71 728.41 938.32C732.78 937.93 737.81 938.15 742.05 938.32C746.29 938.50 750.14 938.32 753.85 939.37C757.57 940.42 761.46 942.61 764.35 944.62C767.23 946.63 769.81 948.73 771.17 951.44C772.52 954.15 772.61 957.86 772.48 960.88C772.35 963.90 771.30 966.35 770.38 969.54C769.46 972.73 767.85 977.33 766.97 980.03C766.09 982.73 765.42 984.79 765.12 985.74" stroke="#433a3a" stroke-width="1.6" fill="none"/>
<path d="M714.50 957.73C715.03 955.55 716.12 951.96 718.44 949.86C720.76 947.76 724.91 946.02 728.41 945.14C731.90 944.27 735.84 944.62 739.42 944.62C743.01 944.62 746.64 944.62 749.92 945.14C753.20 945.67 757.13 945.88 759.10 947.76C761.07 949.64 761.42 953.89 761.72 956.42C762.03 958.96 761.81 960.79 760.94 962.98C760.06 965.17 758.75 967.88 756.48 969.54C754.20 971.20 750.14 972.29 747.29 972.95C744.45 973.60 742.49 973.56 739.42 973.47C736.36 973.39 732.21 973.30 728.93 972.42C725.65 971.55 722.02 969.80 719.75 968.23C717.48 966.65 716.17 964.73 715.29 962.98C714.42 961.23 713.98 959.92 714.50 957.73Z" stroke="#433a3a" stroke-width="1.6" fill="none"/>
</g>
<path d="M727.81 765.6L741.01 750.0Q743.61 746.9 748.61 746.9Q753.61 746.9 756.21 750.0L769.41 765.6" fill="none" stroke="#000" stroke-width="2.9" stroke-linejoin="round"/>
<path d="M855.71 851.50C856.21 850.92 857.63 848.83 858.71 848.00C859.79 847.17 860.96 846.42 862.21 846.50C863.46 846.58 865.21 847.58 866.21 848.50C867.21 849.42 867.86 850.42 868.21 852.00C868.56 853.58 868.48 855.67 868.31 858.00C868.14 860.33 867.43 863.33 867.21 866.00C866.99 868.67 866.88 871.00 867.01 874.00C867.14 877.00 867.68 881.00 868.01 884.00C868.34 887.00 869.01 889.67 869.01 892.00C869.01 894.33 868.64 896.33 868.01 898.00C867.38 899.67 866.34 901.00 865.21 902.00C864.08 903.00 862.38 903.92 861.21 904.00C860.04 904.08 859.13 903.17 858.21 902.50C857.29 901.83 856.13 900.42 855.71 900.00" fill="none" stroke="#000" stroke-width="2.4" stroke-linejoin="round"/>
<path d="M641.51 851.50C641.01 850.92 639.59 848.83 638.51 848.00C637.43 847.17 636.26 846.42 635.01 846.50C633.76 846.58 632.01 847.58 631.01 848.50C630.01 849.42 629.36 850.42 629.01 852.00C628.66 853.58 628.74 855.67 628.91 858.00C629.08 860.33 629.79 863.33 630.01 866.00C630.23 868.67 630.34 871.00 630.21 874.00C630.08 877.00 629.54 881.00 629.21 884.00C628.88 887.00 628.21 889.67 628.21 892.00C628.21 894.33 628.58 896.33 629.21 898.00C629.84 899.67 630.88 901.00 632.01 902.00C633.14 903.00 634.84 903.92 636.01 904.00C637.18 904.08 638.09 903.17 639.01 902.50C639.93 901.83 641.09 900.42 641.51 900.00" fill="none" stroke="#000" stroke-width="2.4" stroke-linejoin="round"/>
<circle cx="748.61" cy="873.4" r="109.85" fill="none" stroke="#000" stroke-width="2.8"/>
<circle cx="748.61" cy="829.30" r="3.9" fill="#000"/>
<circle cx="748.61" cy="961.80" r="3.9" fill="#000"/>
<path d="M204.05 313.04H209.38V316.31H204.05ZM211.69 313.04H216.90V316.31H211.69Z" fill="#fff"/>
<path d="M78.46 37.69H83.80V40.96H78.46ZM86.11 37.69H91.31V40.96H86.11Z" fill="#fff"/>
<path d="M678.22 313.04H683.55V316.31H678.22ZM685.86 313.04H691.07V316.31H685.86Z" fill="#fff"/>
<path d="M552.71 37.69H558.05V40.96H552.71ZM560.36 37.69H565.56V40.96H560.36Z" fill="#fff"/>
<path d="M79.22 670.04H84.56V673.31H79.22ZM86.87 670.04H92.07V673.31H86.87Z" fill="#fff"/>
<path d="M220.53 670.04H225.87V673.31H220.53ZM228.18 670.04H233.38V673.31H228.18Z" fill="#fff"/>
<path d="M78.46 648.04H83.80V651.31H78.46ZM86.11 648.04H91.31V651.31H86.11Z" fill="#fff"/>
<path d="M78.46 394.89H83.80V398.16H78.46ZM86.11 394.89H91.31V398.16H86.11Z" fill="#fff"/>
<path d="M553.47 670.04H558.81V673.31H553.47ZM561.12 670.04H566.32V673.31H561.12Z" fill="#fff"/>
<path d="M694.68 670.04H700.02V673.31H694.68ZM702.33 670.04H707.53V673.31H702.33Z" fill="#fff"/>
<path d="M552.71 648.04H558.05V651.31H552.71ZM560.36 648.04H565.56V651.31H560.36Z" fill="#fff"/>
<path d="M552.71 394.89H558.05V398.16H552.71ZM560.36 394.89H565.56V398.16H560.36Z" fill="#fff"/>
<path d="M709.24 736.64H714.58V739.91H709.24ZM716.89 736.64H722.09V739.91H716.89Z" fill="#fff"/>
<path d="M721.43 736.64H726.77V739.91H721.43ZM729.08 736.64H734.28V739.91H729.08Z" fill="#fff"/>
</svg></body></html>
